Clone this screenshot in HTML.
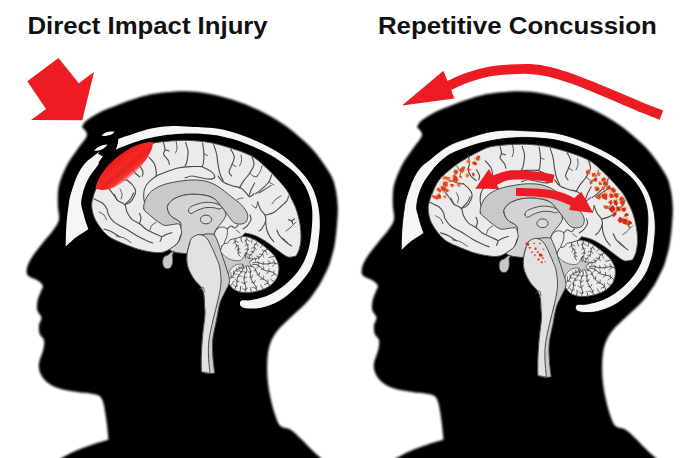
<!DOCTYPE html>
<html><head><meta charset="utf-8"><title>Direct Impact Injury vs Repetitive Concussion</title>
<style>
html,body{margin:0;padding:0;background:#fff;}
body{width:680px;height:458px;overflow:hidden;position:relative;font-family:"Liberation Sans",Arial,Helvetica,sans-serif;}
svg{position:absolute;left:0;top:0;display:block;}
.t{font-family:"Liberation Sans",Arial,Helvetica,sans-serif;font-weight:700;font-size:24.7px;fill:#111;}
</style></head><body>
<svg width="680" height="458" viewBox="0 0 680 458">
<defs>
<filter id="soft" x="-5%" y="-5%" width="110%" height="110%"><feGaussianBlur stdDeviation="0.9"/></filter>
<filter id="soft3" x="-10%" y="-10%" width="120%" height="120%"><feGaussianBlur stdDeviation="0.55"/></filter>
<filter id="soft2" x="-10%" y="-10%" width="120%" height="120%"><feGaussianBlur stdDeviation="0.9"/></filter>
<linearGradient id="rg" x1="0" y1="0" x2="0" y2="1">
<stop offset="0" stop-color="#ee1c1c"/><stop offset="0.55" stop-color="#ee2a22"/><stop offset="1" stop-color="#ee3a2e" stop-opacity="0.55"/>
</linearGradient>
</defs>
<rect width="680" height="458" fill="#fff"/>
<g transform="translate(0,0)">
<path d="M82.0,127.5C82.0,127.5 83.0,123.5 86.0,121.0C89.0,118.5 94.3,115.0 100.0,112.2C105.7,109.4 115.3,105.9 120.0,104.0C124.7,102.1 122.9,102.6 128.0,101.0C133.1,99.4 143.7,95.8 150.7,94.3C157.7,92.8 164.3,92.5 170.0,92.0C175.7,91.5 178.7,91.1 185.0,91.3C191.3,91.5 199.7,92.0 207.7,93.4C215.7,94.8 224.4,97.1 232.8,99.8C241.2,102.5 249.6,105.8 258.0,109.8C266.4,113.8 275.9,119.3 283.0,124.0C290.1,128.7 295.2,133.2 300.6,138.0C306.1,142.8 310.7,146.8 315.7,153.0C320.7,159.2 327.4,168.8 330.8,175.0C334.2,181.2 334.6,184.6 335.8,190.0C337.0,195.4 337.6,201.9 337.8,207.7C338.0,213.5 337.5,218.8 337.0,225.0C336.5,231.2 335.6,239.2 334.6,245.0C333.6,250.8 331.9,256.2 330.8,260.0C329.7,263.8 329.7,264.2 328.0,268.0C326.3,271.8 322.5,279.3 320.5,283.0C318.5,286.7 318.2,286.8 316.0,290.0C313.8,293.2 311.2,297.4 307.0,302.0C302.8,306.6 295.4,312.9 290.6,317.6C285.8,322.3 281.4,325.8 278.0,330.0C274.6,334.2 272.2,338.2 270.5,342.8C268.8,347.4 268.0,351.9 267.5,357.8C267.0,363.7 267.0,371.3 267.5,378.0C268.0,384.7 269.2,391.7 270.5,398.0C271.8,404.3 273.8,411.3 275.5,416.0C277.2,420.7 278.0,423.7 280.5,426.0C283.0,428.3 287.2,427.6 290.6,429.7C294.0,431.8 296.9,434.9 300.6,438.5C304.3,442.1 309.6,447.8 313.0,451.0C316.4,454.2 318.7,456.2 320.7,458.0C322.7,459.8 325.0,462.0 325.0,462.0C325.0,462.0 55.0,462.0 55.0,462.0C55.0,462.0 58.1,459.8 61.5,458.0C64.9,456.2 69.7,453.4 75.4,451.0C81.1,448.6 90.0,445.4 95.5,443.5C101.0,441.6 108.5,439.7 108.5,439.7C108.5,439.7 107.5,429.0 106.8,423.4C106.0,417.8 105.0,410.2 104.0,405.8C103.0,401.4 102.3,399.0 100.5,397.0C98.7,395.0 97.2,394.9 93.0,394.0C88.8,393.1 81.3,392.8 75.4,391.8C69.5,390.8 62.6,389.7 57.8,388.0C53.0,386.3 49.4,384.2 46.5,381.7C43.6,379.2 41.5,376.1 40.2,373.0C39.0,369.9 38.5,366.8 39.0,363.0C39.5,359.2 42.4,353.8 43.2,350.0C44.0,346.2 44.6,342.7 44.0,340.0C43.4,337.3 40.5,336.5 39.7,334.0C38.9,331.5 38.7,327.7 39.0,325.0C39.3,322.3 41.8,320.1 41.5,317.6C41.2,315.1 37.8,312.9 37.2,310.0C36.6,307.1 37.0,303.3 37.7,300.0C38.4,296.7 40.7,292.4 41.5,290.0C42.3,287.6 43.3,287.1 42.7,285.5C42.1,283.9 40.2,282.2 37.7,280.5C35.2,278.8 29.8,277.6 28.0,275.5C26.2,273.4 26.4,270.9 27.0,268.0C27.6,265.1 28.8,262.2 31.4,258.0C34.0,253.8 38.9,247.8 42.7,243.0C46.5,238.2 51.3,233.0 54.0,229.0C56.7,225.0 58.4,223.0 59.0,219.0C59.6,215.0 57.9,210.0 57.8,205.0C57.7,200.0 57.6,193.8 58.3,189.0C59.0,184.2 60.2,180.6 62.0,176.0C63.8,171.4 66.3,166.1 69.0,161.5C71.7,156.9 75.0,152.9 78.0,148.5C81.0,144.1 86.3,138.5 87.0,135.0C87.7,131.5 82.0,127.5 82.0,127.5Z" fill="#000" filter="url(#soft)"/>
</g>
<g transform="translate(0,0)">
<path d="M65.8,246.6C65.8,246.6 65.8,236.8 66.0,232.0C66.2,227.2 66.5,222.7 67.0,218.0C67.5,213.3 68.3,207.5 68.8,204.0C69.3,200.5 69.2,200.1 70.0,197.0C70.8,193.9 72.2,189.2 73.6,185.3C75.0,181.4 76.3,177.3 78.3,173.6C80.2,169.9 82.5,166.1 85.3,163.0C88.0,159.9 91.5,158.0 94.8,155.3C98.1,152.6 101.3,149.6 105.0,147.0C108.7,144.4 112.2,141.9 117.0,139.7C121.8,137.5 127.9,135.7 133.6,133.8C139.3,131.9 145.3,129.8 151.2,128.5C157.1,127.2 162.4,126.5 168.9,126.2C175.4,125.9 181.5,126.3 190.0,126.8C198.5,127.3 210.8,127.4 220.0,129.0C229.2,130.6 237.0,133.4 245.4,136.6C253.8,139.8 263.4,144.2 270.5,148.0C277.6,151.8 282.6,155.0 288.0,159.3C293.4,163.6 298.8,169.1 303.0,174.0C307.2,178.9 310.4,183.4 313.0,189.0C315.6,194.6 317.4,201.7 318.5,207.7C319.6,213.7 319.8,219.6 319.8,225.0C319.8,230.4 319.1,235.3 318.5,240.0C317.9,244.7 318.0,247.8 316.5,253.0C315.0,258.2 313.1,265.1 309.5,271.0C305.9,276.9 300.1,283.5 295.0,288.5C289.9,293.5 284.5,297.8 279.0,301.0C273.5,304.2 266.8,306.2 262.0,307.5C257.2,308.8 253.2,308.5 250.0,308.5C246.8,308.5 244.7,308.2 243.0,307.5C241.3,306.8 240.2,305.6 240.0,304.4C239.8,303.2 239.8,301.2 241.8,300.5C243.8,299.8 247.3,301.0 252.0,300.0C256.7,299.0 264.3,297.2 270.0,294.5C275.7,291.8 281.0,288.3 286.0,284.0C291.0,279.7 296.3,274.0 300.0,268.5C303.7,263.0 306.1,257.2 308.0,251.0C309.9,244.8 310.8,238.2 311.5,231.0C312.2,223.8 312.8,214.5 312.0,207.7C311.2,200.9 309.3,195.3 307.0,190.0C304.7,184.7 301.2,179.8 298.0,176.0C294.8,172.2 292.6,170.5 288.0,167.0C283.4,163.5 277.6,158.9 270.5,155.0C263.4,151.1 253.8,146.6 245.4,143.4C237.0,140.2 228.4,137.6 220.0,136.0C211.6,134.4 201.6,134.0 195.0,133.6C188.4,133.2 186.0,133.4 180.7,133.7C175.4,134.0 168.9,134.5 163.0,135.4C157.1,136.3 151.2,137.4 145.3,139.0C139.4,140.6 132.8,142.8 127.7,144.7C122.6,146.6 118.0,148.6 114.7,150.3C111.4,152.0 110.2,153.3 108.0,155.0C105.8,156.7 103.8,158.5 101.8,160.6C99.8,162.7 98.0,165.1 96.0,167.7C94.0,170.3 91.8,173.1 90.0,176.0C88.2,178.9 86.6,182.2 85.3,185.3C84.0,188.4 83.1,191.7 82.4,194.8C81.7,197.9 81.1,201.1 81.2,204.0C81.3,206.9 82.3,209.2 83.0,212.0C83.7,214.8 84.6,218.2 85.5,221.0C86.4,223.8 88.4,229.0 88.4,229.0C88.4,229.0 87.2,230.0 85.0,231.5C82.8,233.0 78.6,235.3 75.4,237.8C72.2,240.3 65.8,246.6 65.8,246.6Z" fill="#f6f6f6"/>
</g>
<g transform="translate(0,0)">
<path d="M96.0,189.0C97.5,185.6 99.3,180.7 102.0,177.0C104.7,173.3 108.3,170.2 112.0,167.0C115.7,163.8 119.7,160.8 124.0,158.0C128.3,155.2 133.3,152.4 138.0,150.0C142.7,147.6 147.5,144.9 152.0,143.5C156.5,142.1 160.7,142.0 165.0,141.5C169.3,141.0 173.8,140.7 178.0,140.5C182.2,140.3 185.8,140.3 190.0,140.5C194.2,140.7 198.9,141.0 203.0,141.5C207.1,142.0 210.1,142.5 214.4,143.5C218.7,144.5 224.1,146.0 229.0,147.5C233.9,149.0 239.4,150.8 243.8,152.6C248.2,154.4 251.7,155.8 255.6,158.5C259.5,161.2 264.0,165.6 267.4,168.8C270.8,172.0 272.9,174.2 276.0,177.6C279.1,181.0 283.7,185.9 286.3,189.5C288.9,193.1 289.8,195.6 291.5,199.0C293.2,202.4 295.1,205.8 296.5,210.0C297.9,214.2 299.2,219.3 300.0,224.0C300.8,228.7 301.1,233.8 301.0,238.0C300.9,242.2 300.1,246.0 299.3,249.0C298.5,252.0 296.0,256.0 296.0,256.0C296.0,256.0 290.7,257.7 288.0,257.0C285.3,256.3 283.3,254.3 280.0,252.0C276.7,249.7 272.0,245.7 268.0,243.0C264.0,240.3 259.8,237.7 256.0,236.0C252.2,234.3 245.0,233.0 245.0,233.0C245.0,233.0 242.2,236.5 240.0,238.0C237.8,239.5 234.7,241.0 232.0,242.0C229.3,243.0 226.8,244.3 224.0,244.0C221.2,243.7 219.0,241.3 215.0,240.0C211.0,238.7 205.0,236.7 200.0,236.0C195.0,235.3 188.1,236.3 185.0,236.0C181.9,235.7 182.6,232.8 181.4,234.0C180.2,235.2 179.5,240.5 177.7,243.0C175.9,245.5 173.1,247.2 170.4,248.8C167.7,250.4 164.9,252.0 161.5,252.5C158.1,253.0 154.2,252.5 149.8,251.8C145.4,251.1 139.9,249.8 135.0,248.2C130.1,246.6 124.7,244.3 120.2,242.3C115.8,240.3 111.7,238.8 108.3,236.2C104.9,233.6 102.2,230.1 99.8,226.8C97.4,223.5 95.2,220.0 93.9,216.5C92.6,213.0 91.9,209.2 91.7,206.0C91.5,202.8 92.3,200.2 93.0,197.4C93.7,194.6 94.5,192.4 96.0,189.0Z" fill="#ebebeb" stroke="#4a4a4a" stroke-width="1.0" stroke-linejoin="round" stroke-linecap="round" />
<path d="M93.9,198.8C95.4,199.5 100.5,201.5 102.7,203.2C104.9,204.9 106.0,207.0 107.0,209.0C108.0,211.0 107.3,212.8 108.6,215.0C109.8,217.2 111.8,220.2 114.5,222.4C117.2,224.6 121.1,226.0 124.8,228.2C128.5,230.4 132.8,233.5 136.5,235.6C140.2,237.7 144.1,239.5 146.8,240.7C149.5,241.9 151.7,242.6 152.7,243.0" fill="none" stroke="#4a4a4a" stroke-width="1.1" stroke-linejoin="round" stroke-linecap="round" />
<path d="M114.5,194.4C115.0,195.4 115.7,198.6 117.4,200.3C119.1,202.0 123.2,202.8 124.8,204.7C126.4,206.6 125.8,209.6 127.0,212.0C128.2,214.4 129.9,217.4 132.0,219.4C134.1,221.4 137.0,222.1 139.5,223.8C142.0,225.5 144.1,228.0 146.8,229.7C149.5,231.4 153.2,232.8 155.6,234.0C158.0,235.2 160.8,235.8 161.5,237.0C162.2,238.2 160.2,240.8 160.0,241.5" fill="none" stroke="#4a4a4a" stroke-width="1.1" stroke-linejoin="round" stroke-linecap="round" />
<path d="M124.8,204.7C125.8,203.7 129.1,200.8 130.6,198.8C132.1,196.9 133.1,194.0 133.6,193.0" fill="none" stroke="#4a4a4a" stroke-width="1.1" stroke-linejoin="round" stroke-linecap="round" />
<path d="M139.5,223.8C139.8,222.8 141.0,219.7 141.0,218.0C141.0,216.3 139.8,214.2 139.5,213.5" fill="none" stroke="#4a4a4a" stroke-width="1.1" stroke-linejoin="round" stroke-linecap="round" />
<path d="M161.5,237.0C162.5,236.5 165.7,234.7 167.4,234.0C169.1,233.3 171.1,232.8 171.8,232.6" fill="none" stroke="#4a4a4a" stroke-width="1.1" stroke-linejoin="round" stroke-linecap="round" />
<path d="M104.0,229.0C105.3,229.5 109.3,230.7 112.0,232.0C114.7,233.3 118.7,236.2 120.0,237.0" fill="none" stroke="#4a4a4a" stroke-width="1.1" stroke-linejoin="round" stroke-linecap="round" />
<path d="M163.5,142.4C163.8,143.6 165.0,147.8 165.0,149.7C165.0,151.6 163.0,152.3 163.5,154.0C164.0,155.7 167.0,158.3 168.0,160.0C169.0,161.7 169.2,163.7 169.4,164.4" fill="none" stroke="#4a4a4a" stroke-width="1.1" stroke-linejoin="round" stroke-linecap="round" />
<path d="M165.0,149.7C165.7,149.9 168.3,150.8 169.0,151.0" fill="none" stroke="#4a4a4a" stroke-width="1.1" stroke-linejoin="round" stroke-linecap="round" />
<path d="M185.6,142.4C186.0,143.6 187.4,147.8 187.8,149.7C188.2,151.6 188.2,151.8 188.0,154.0C187.8,156.2 187.0,161.0 186.5,163.0C186.0,165.0 185.2,165.5 185.0,166.0" fill="none" stroke="#4a4a4a" stroke-width="1.1" stroke-linejoin="round" stroke-linecap="round" />
<path d="M148.8,157.0C149.8,158.2 153.5,161.9 154.7,164.4C155.9,166.9 155.9,169.9 156.2,171.8C156.4,173.7 156.2,175.3 156.2,176.0" fill="none" stroke="#4a4a4a" stroke-width="1.1" stroke-linejoin="round" stroke-linecap="round" />
<path d="M131.6,151.1C131.8,152.4 133.1,156.8 133.1,159.2C133.1,161.6 131.4,163.6 131.6,165.8C131.8,168.0 133.2,170.6 134.5,172.4C135.8,174.2 138.8,176.1 139.7,176.8" fill="none" stroke="#4a4a4a" stroke-width="1.1" stroke-linejoin="round" stroke-linecap="round" />
<path d="M114.0,176.8C115.5,177.3 120.7,179.3 122.8,179.8C124.9,180.3 126.1,179.9 126.8,179.9" fill="none" stroke="#4a4a4a" stroke-width="1.1" stroke-linejoin="round" stroke-linecap="round" />
<path d="M202.0,166.6C200.0,166.6 194.0,166.4 190.0,166.6C186.0,166.8 182.1,167.1 178.2,168.0C174.3,168.9 170.2,170.4 166.5,171.8C162.8,173.2 159.1,174.5 156.2,176.2C153.2,177.9 150.8,179.8 148.8,182.0C146.8,184.2 145.2,186.9 144.4,189.4C143.6,191.9 143.7,194.7 143.7,196.8C143.7,198.9 144.3,201.1 144.4,202.0" fill="none" stroke="#4a4a4a" stroke-width="1.1" stroke-linejoin="round" stroke-linecap="round" />
<path d="M140.0,165.9C140.5,166.9 142.6,170.1 143.0,171.8C143.4,173.5 142.3,175.5 142.2,176.2" fill="none" stroke="#4a4a4a" stroke-width="1.1" stroke-linejoin="round" stroke-linecap="round" />
<path d="M126.8,179.9C127.8,180.8 131.1,183.2 132.6,185.0C134.1,186.8 135.4,188.9 135.6,190.9C135.8,192.9 134.9,195.0 134.0,196.8C133.1,198.7 131.9,200.7 130.4,202.0C128.9,203.3 125.7,204.2 124.8,204.7" fill="none" stroke="#4a4a4a" stroke-width="1.1" stroke-linejoin="round" stroke-linecap="round" />
<path d="M107.6,187.2C108.1,187.8 109.4,189.3 110.6,190.9C111.8,192.5 113.9,195.2 115.0,196.8C116.1,198.4 117.0,199.7 117.4,200.3" fill="none" stroke="#4a4a4a" stroke-width="1.1" stroke-linejoin="round" stroke-linecap="round" />
<path d="M202.6,143.0C202.8,144.8 203.9,150.7 204.0,154.0C204.1,157.3 203.7,160.9 203.4,163.0C203.1,165.1 202.2,166.0 202.0,166.6" fill="none" stroke="#4a4a4a" stroke-width="1.1" stroke-linejoin="round" stroke-linecap="round" />
<path d="M213.7,144.6C214.2,146.2 215.9,150.7 216.6,154.0C217.3,157.3 217.4,161.0 218.0,164.4C218.6,167.8 219.4,172.0 220.3,174.7C221.2,177.4 222.7,179.6 223.2,180.6" fill="none" stroke="#4a4a4a" stroke-width="1.1" stroke-linejoin="round" stroke-linecap="round" />
<path d="M230.6,149.0C231.2,150.3 234.1,154.4 234.3,157.0C234.5,159.6 232.9,161.9 232.0,164.4C231.1,166.9 229.1,169.9 229.0,171.8C228.9,173.7 231.1,175.3 231.5,176.0" fill="none" stroke="#4a4a4a" stroke-width="1.1" stroke-linejoin="round" stroke-linecap="round" />
<path d="M252.0,157.0C252.3,158.2 254.4,161.7 254.0,164.4C253.6,167.1 251.4,170.5 249.7,173.2C248.0,175.9 245.5,178.1 243.8,180.6C242.1,183.1 240.1,186.8 239.4,188.0" fill="none" stroke="#4a4a4a" stroke-width="1.1" stroke-linejoin="round" stroke-linecap="round" />
<path d="M271.8,174.7C271.3,175.9 270.5,179.6 268.8,182.0C267.1,184.4 263.7,187.4 261.5,189.4C259.3,191.4 256.6,193.1 255.6,193.8" fill="none" stroke="#4a4a4a" stroke-width="1.1" stroke-linejoin="round" stroke-linecap="round" />
<path d="M202.0,166.6C203.6,167.5 209.4,170.0 211.5,171.8C213.6,173.6 215.2,176.4 214.4,177.6C213.7,178.8 210.7,179.3 207.0,179.0C203.3,178.7 196.1,176.2 192.4,176.0C188.7,175.8 186.2,177.7 185.0,178.0" fill="none" stroke="#4a4a4a" stroke-width="1.1" stroke-linejoin="round" stroke-linecap="round" />
<path d="M218.0,176.0C218.9,177.0 220.9,180.4 223.2,182.0C225.5,183.6 229.0,184.7 232.0,185.7C235.0,186.7 238.5,186.7 241.0,188.0C243.5,189.3 245.4,192.3 246.8,193.8C248.2,195.3 248.5,196.8 249.7,196.8C250.9,196.8 253.3,194.3 254.0,193.8" fill="none" stroke="#4a4a4a" stroke-width="1.1" stroke-linejoin="round" stroke-linecap="round" />
<path d="M257.6,202.0C258.1,203.2 259.4,207.2 260.6,209.4C261.8,211.6 264.1,213.4 265.0,215.3C265.9,217.2 266.2,218.8 265.7,221.0C265.2,223.2 263.1,226.8 262.0,228.5C260.9,230.2 259.5,230.6 259.0,231.0" fill="none" stroke="#4a4a4a" stroke-width="1.1" stroke-linejoin="round" stroke-linecap="round" />
<path d="M265.0,215.3C266.5,214.8 271.1,213.9 273.8,212.4C276.5,210.9 278.8,208.5 281.0,206.5C283.2,204.5 285.8,202.3 287.0,200.6C288.2,198.8 288.2,196.8 288.5,196.0" fill="none" stroke="#4a4a4a" stroke-width="1.1" stroke-linejoin="round" stroke-linecap="round" />
<path d="M265.7,221.0C265.8,222.2 265.9,226.0 266.5,228.5C267.1,231.0 268.2,233.7 269.4,235.9C270.6,238.1 273.1,240.8 273.8,241.8" fill="none" stroke="#4a4a4a" stroke-width="1.1" stroke-linejoin="round" stroke-linecap="round" />
<path d="M288.5,219.7C289.0,219.9 290.8,220.3 291.5,221.0C292.2,221.7 292.8,223.5 293.0,224.0" fill="none" stroke="#4a4a4a" stroke-width="1.1" stroke-linejoin="round" stroke-linecap="round" />
<path d="M291.5,221.0C292.0,220.7 294.0,219.3 294.5,219.0" fill="none" stroke="#4a4a4a" stroke-width="1.1" stroke-linejoin="round" stroke-linecap="round" />
<path d="M276.8,230.0C277.3,231.0 278.2,233.9 279.7,235.9C281.2,237.9 283.6,240.1 285.6,241.8C287.6,243.5 290.5,245.3 291.5,246.0" fill="none" stroke="#4a4a4a" stroke-width="1.1" stroke-linejoin="round" stroke-linecap="round" />
<path d="M259.0,193.0C260.5,192.1 266.0,188.7 268.0,187.4C270.0,186.2 270.5,185.8 271.0,185.5" fill="none" stroke="#4a4a4a" stroke-width="1.1" stroke-linejoin="round" stroke-linecap="round" />
<path d="M249.0,196.0C249.3,195.0 250.1,192.2 251.0,190.0C251.9,187.8 254.1,184.2 254.7,183.0" fill="none" stroke="#4a4a4a" stroke-width="1.1" stroke-linejoin="round" stroke-linecap="round" />
<path d="M250.0,215.0C250.2,215.8 251.4,217.9 251.0,219.7C250.6,221.5 248.7,224.0 247.4,225.6C246.1,227.2 243.7,228.4 243.0,229.0" fill="none" stroke="#4a4a4a" stroke-width="1.1" stroke-linejoin="round" stroke-linecap="round" />
<path d="M232.0,164.4C232.7,164.8 235.3,166.2 236.0,166.5" fill="none" stroke="#4a4a4a" stroke-width="0.9" stroke-linejoin="round" stroke-linecap="round" />
<path d="M249.7,173.2C250.4,173.8 252.8,176.0 254.0,176.5C255.2,177.0 256.5,176.1 257.0,176.0" fill="none" stroke="#4a4a4a" stroke-width="0.9" stroke-linejoin="round" stroke-linecap="round" />
<path d="M268.8,182.0C269.7,182.5 273.1,184.5 274.0,185.0" fill="none" stroke="#4a4a4a" stroke-width="0.9" stroke-linejoin="round" stroke-linecap="round" />
<path d="M204.0,154.0C204.6,154.2 206.9,155.2 207.5,155.5" fill="none" stroke="#4a4a4a" stroke-width="0.9" stroke-linejoin="round" stroke-linecap="round" />
<path d="M176.0,141.0C176.2,142.2 177.1,146.0 177.0,148.0C176.9,150.0 175.8,152.2 175.5,153.0" fill="none" stroke="#4a4a4a" stroke-width="0.9" stroke-linejoin="round" stroke-linecap="round" />
<path d="M241.0,155.0C241.1,156.0 241.8,159.2 241.5,161.0C241.2,162.8 239.8,165.2 239.5,166.0" fill="none" stroke="#4a4a4a" stroke-width="0.9" stroke-linejoin="round" stroke-linecap="round" />
<path d="M262.0,166.0C261.7,167.0 260.9,170.2 260.0,172.0C259.1,173.8 257.1,176.2 256.5,177.0" fill="none" stroke="#4a4a4a" stroke-width="0.9" stroke-linejoin="round" stroke-linecap="round" />
<path d="M281.0,196.0C280.2,196.5 277.5,197.7 276.0,199.0C274.5,200.3 272.7,203.2 272.0,204.0" fill="none" stroke="#4a4a4a" stroke-width="0.9" stroke-linejoin="round" stroke-linecap="round" />
<path d="M296.0,222.0C295.0,223.0 291.7,226.5 290.0,228.0C288.3,229.5 286.7,230.5 286.0,231.0" fill="none" stroke="#4a4a4a" stroke-width="0.9" stroke-linejoin="round" stroke-linecap="round" />
<path d="M283.0,238.0C283.8,238.8 287.2,242.2 288.0,243.0" fill="none" stroke="#4a4a4a" stroke-width="0.9" stroke-linejoin="round" stroke-linecap="round" />
<path d="M99.0,212.0C99.8,212.5 102.8,213.7 104.0,215.0C105.2,216.3 106.1,219.2 106.5,220.0" fill="none" stroke="#4a4a4a" stroke-width="0.9" stroke-linejoin="round" stroke-linecap="round" />
<path d="M116.0,236.0C117.3,236.3 121.5,236.9 124.0,238.0C126.5,239.1 129.8,241.8 131.0,242.5" fill="none" stroke="#4a4a4a" stroke-width="0.9" stroke-linejoin="round" stroke-linecap="round" />
<path d="M150.0,230.0C150.3,229.2 151.0,226.2 152.0,225.0C153.0,223.8 155.3,222.9 156.0,222.5" fill="none" stroke="#4a4a4a" stroke-width="0.9" stroke-linejoin="round" stroke-linecap="round" />
<path d="M120.0,189.0C120.3,189.8 121.8,192.3 122.0,194.0C122.2,195.7 121.2,198.2 121.0,199.0" fill="none" stroke="#4a4a4a" stroke-width="0.9" stroke-linejoin="round" stroke-linecap="round" />
<path d="M108.0,173.0C108.8,173.8 112.0,177.4 113.0,178.0C114.0,178.6 113.8,177.0 114.0,176.8" fill="none" stroke="#4a4a4a" stroke-width="0.9" stroke-linejoin="round" stroke-linecap="round" />
<path d="M120.0,162.0C120.7,163.0 123.5,166.2 124.0,168.0C124.5,169.8 123.2,172.2 123.0,173.0" fill="none" stroke="#4a4a4a" stroke-width="0.9" stroke-linejoin="round" stroke-linecap="round" />
<path d="M234.0,203.0C234.7,202.3 236.5,199.8 238.0,199.0C239.5,198.2 242.2,198.2 243.0,198.0" fill="none" stroke="#4a4a4a" stroke-width="0.9" stroke-linejoin="round" stroke-linecap="round" />
<path d="M252.0,205.0C252.7,205.5 255.1,208.5 256.0,208.0C256.9,207.5 257.3,203.0 257.6,202.0" fill="none" stroke="#4a4a4a" stroke-width="0.9" stroke-linejoin="round" stroke-linecap="round" />
<path d="M236.0,230.0C236.7,230.5 239.3,232.5 240.0,233.0" fill="none" stroke="#4a4a4a" stroke-width="0.9" stroke-linejoin="round" stroke-linecap="round" />
<path d="M143.8,209.0C143.1,206.4 144.3,202.4 145.6,199.4C146.9,196.4 148.8,193.5 151.5,191.2C154.2,188.8 157.9,186.9 162.0,185.3C166.1,183.7 171.3,182.7 176.2,181.8C181.1,180.9 186.6,180.1 191.5,180.0C196.4,179.9 201.3,180.1 205.7,181.2C210.1,182.3 213.9,184.0 218.0,186.5C222.1,189.0 226.5,192.9 230.4,196.0C234.3,199.1 238.7,202.0 241.5,205.0C244.3,208.0 246.6,211.1 247.4,213.8C248.2,216.5 247.6,219.3 246.6,221.0C245.6,222.7 243.6,223.7 241.5,224.0C239.4,224.3 236.2,224.0 234.0,222.6C231.8,221.2 229.9,217.7 228.0,215.3C226.1,212.9 224.9,210.9 222.4,208.0C219.9,205.1 216.6,200.2 213.0,198.0C209.4,195.8 205.4,195.2 201.0,194.7C196.6,194.1 191.1,194.1 186.8,194.7C182.5,195.3 178.0,196.8 175.0,198.3C172.0,199.9 169.8,202.2 168.6,204.0C167.3,205.8 167.1,206.8 167.5,208.8C167.9,210.8 168.9,213.8 171.0,216.0C173.1,218.2 178.3,220.0 180.0,222.0C181.7,224.0 181.2,227.7 181.0,228.0C180.8,228.3 180.5,224.6 179.0,224.0C177.5,223.4 174.2,224.4 171.8,224.6C169.4,224.8 167.0,225.9 164.5,225.3C162.0,224.7 159.4,222.7 157.0,221.0C154.6,219.3 152.0,217.0 149.8,215.0C147.6,213.0 144.5,211.6 143.8,209.0Z" fill="#c9c9c9" stroke="#4a4a4a" stroke-width="1.0" stroke-linejoin="round" stroke-linecap="round" />
<path d="M167.5,208.8C167.1,206.8 167.3,205.8 168.6,204.0C169.8,202.2 172.0,199.9 175.0,198.3C178.0,196.8 182.5,195.3 186.8,194.7C191.1,194.1 196.6,194.1 201.0,194.7C205.4,195.2 209.8,196.3 213.0,198.0C216.2,199.7 217.8,202.3 220.0,205.0C222.2,207.7 225.7,211.2 226.0,214.0C226.3,216.8 223.5,219.7 222.0,222.0C220.5,224.3 218.3,226.0 217.0,228.0C215.7,230.0 214.5,231.8 214.0,234.0C213.5,236.2 213.5,238.6 214.0,241.0C214.5,243.4 215.8,245.5 217.0,248.5C218.2,251.5 219.8,255.4 221.0,259.0C222.2,262.6 225.2,268.2 224.0,270.0C222.8,271.8 218.0,271.3 214.0,270.0C210.0,268.7 204.0,264.7 200.0,262.0C196.0,259.3 192.7,255.4 190.0,254.0C187.3,252.6 186.3,253.8 184.0,253.5C181.7,253.2 178.1,252.9 176.0,252.5C173.9,252.1 172.4,251.6 171.5,251.0C170.6,250.4 169.4,250.1 170.4,248.8C171.4,247.5 175.9,245.5 177.7,243.0C179.5,240.5 180.8,236.5 181.4,234.0C182.0,231.5 181.2,230.0 181.0,228.0C180.8,226.0 181.7,224.0 180.0,222.0C178.3,220.0 173.1,218.2 171.0,216.0C168.9,213.8 167.9,210.8 167.5,208.8Z" fill="#d3d3d3" stroke="#4a4a4a" stroke-width="1.0" stroke-linejoin="round" stroke-linecap="round" />
<path d="M188.5,211.0C188.3,210.0 188.8,208.6 190.0,207.5C191.2,206.4 193.3,205.4 196.0,204.5C198.7,203.6 202.7,202.5 206.0,202.3C209.3,202.1 213.3,202.7 216.0,203.5C218.7,204.3 221.5,206.1 222.0,207.0C222.5,207.9 220.3,208.9 219.0,209.0C217.7,209.1 216.2,208.0 214.0,207.8C211.8,207.6 208.8,207.2 206.0,207.6C203.2,208.0 199.5,209.5 197.0,210.5C194.5,211.5 192.4,213.4 191.0,213.5C189.6,213.6 188.7,212.0 188.5,211.0Z" fill="#d9d9d9" stroke="#4a4a4a" stroke-width="1.0" stroke-linejoin="round" stroke-linecap="round" />
<ellipse cx="206" cy="219.5" rx="5.6" ry="4.4" fill="#d9d9d9" stroke="#4a4a4a" stroke-width="1"/>
<path d="M217.0,229.0C218.2,227.8 220.3,227.0 222.0,227.0C223.7,227.0 226.2,227.5 227.0,229.0C227.8,230.5 227.5,233.5 227.0,236.0C226.5,238.5 224.3,241.3 224.0,244.0C223.7,246.7 225.2,250.0 225.0,252.0C224.8,254.0 224.0,256.3 223.0,256.0C222.0,255.7 220.3,252.5 219.0,250.0C217.7,247.5 215.8,243.7 215.0,241.0C214.2,238.3 214.2,236.0 214.5,234.0C214.8,232.0 215.8,230.2 217.0,229.0Z" fill="#ebebeb" stroke="#4a4a4a" stroke-width="0.9" stroke-linejoin="round" stroke-linecap="round" />
<path d="M227.0,229.0C227.7,228.5 229.7,226.2 231.0,226.0C232.3,225.8 233.8,228.2 235.0,228.0C236.2,227.8 237.5,225.5 238.0,225.0" fill="none" stroke="#4a4a4a" stroke-width="1.1" stroke-linejoin="round" stroke-linecap="round" />
<path d="M222.0,246.0C223.6,242.3 226.3,244.0 227.6,243.0C228.9,242.0 228.7,240.8 230.0,240.0C231.3,239.2 232.9,239.1 235.4,238.5C237.9,237.9 241.8,236.1 244.9,236.3C248.1,236.5 251.7,238.3 254.3,239.5C256.9,240.7 258.4,242.0 260.5,243.5C262.6,245.0 264.5,246.3 266.9,248.4C269.3,250.5 272.7,253.4 274.7,256.3C276.7,259.2 278.2,262.6 278.7,265.7C279.2,268.8 278.8,272.3 277.9,275.2C277.0,278.1 275.3,280.8 273.2,283.0C271.1,285.2 268.4,287.0 265.3,288.5C262.2,290.0 258.0,291.2 254.3,291.9C250.6,292.6 246.7,293.0 243.3,292.6C239.9,292.2 236.5,291.1 233.9,289.5C231.3,287.9 230.0,284.6 228.0,283.0C226.0,281.4 223.7,283.0 222.0,280.0C220.3,277.0 218.0,270.7 218.0,265.0C218.0,259.3 220.4,249.7 222.0,246.0Z" fill="#ebebeb" stroke="#4a4a4a" stroke-width="1.0" stroke-linejoin="round" stroke-linecap="round" />
<path d="M221.0,254.0C221.7,251.5 224.2,256.0 226.0,257.0C227.8,258.0 229.7,259.4 232.0,260.0C234.3,260.6 238.1,261.0 240.0,260.5C241.9,260.0 242.5,258.3 243.5,257.0C244.5,255.7 245.3,252.4 246.0,252.5C246.7,252.6 246.4,256.5 247.6,257.5C248.8,258.5 252.7,257.8 253.0,258.5C253.3,259.2 249.7,260.6 249.5,262.0C249.3,263.4 252.4,266.4 252.0,267.0C251.6,267.6 248.4,265.2 247.0,265.5C245.6,265.8 244.2,269.2 243.5,269.0C242.8,268.8 244.2,265.2 243.0,264.5C241.8,263.8 238.2,264.1 236.0,265.0C233.8,265.9 231.5,267.7 230.0,270.0C228.5,272.3 228.0,276.8 227.0,279.0C226.0,281.2 224.8,284.2 224.0,283.0C223.2,281.8 222.5,276.8 222.0,272.0C221.5,267.2 220.3,256.5 221.0,254.0Z" fill="#c9c9c9" stroke="#4a4a4a" stroke-width="0.7" stroke-linejoin="round" stroke-linecap="round" />
<path d="M235.4,239.0C235.3,239.5 234.7,241.0 234.8,241.9C235.0,242.8 235.6,243.7 236.2,244.5C236.8,245.3 237.9,245.9 238.3,246.8C238.7,247.8 238.6,248.9 238.6,250.0C238.6,251.1 237.9,252.4 238.2,253.5C238.5,254.5 239.9,255.8 240.2,256.3" fill="none" stroke="#4a4a4a" stroke-width="0.95" stroke-linejoin="round" stroke-linecap="round" />
<path d="M235.7,241.1C236.0,241.2 236.7,241.4 237.2,241.6C237.7,241.9 238.3,242.5 238.5,242.7" fill="none" stroke="#4a4a4a" stroke-width="0.8" stroke-linejoin="round" stroke-linecap="round" />
<path d="M235.7,241.1C235.5,241.3 235.1,241.6 234.7,242.0C234.3,242.4 233.5,243.3 233.2,243.5" fill="none" stroke="#4a4a4a" stroke-width="0.8" stroke-linejoin="round" stroke-linecap="round" />
<path d="M236.4,245.0C236.6,245.1 237.4,245.4 237.7,245.5C238.0,245.6 238.4,245.6 238.5,245.6" fill="none" stroke="#4a4a4a" stroke-width="0.8" stroke-linejoin="round" stroke-linecap="round" />
<path d="M236.4,245.0C236.4,245.3 236.4,246.2 236.2,246.8C236.0,247.3 235.4,248.0 235.2,248.3" fill="none" stroke="#4a4a4a" stroke-width="0.8" stroke-linejoin="round" stroke-linecap="round" />
<path d="M238.0,248.7C238.1,248.7 238.2,248.8 238.6,248.8C238.9,248.9 239.6,249.0 239.9,249.0" fill="none" stroke="#4a4a4a" stroke-width="0.8" stroke-linejoin="round" stroke-linecap="round" />
<path d="M238.0,248.7C237.9,248.8 237.6,248.9 237.5,249.2C237.4,249.5 237.4,250.2 237.3,250.4" fill="none" stroke="#4a4a4a" stroke-width="0.8" stroke-linejoin="round" stroke-linecap="round" />
<path d="M239.1,252.1C239.3,252.2 240.0,252.3 240.2,252.5C240.5,252.6 240.7,252.7 240.8,252.8" fill="none" stroke="#4a4a4a" stroke-width="0.8" stroke-linejoin="round" stroke-linecap="round" />
<path d="M239.1,252.1C239.0,252.2 238.8,252.5 238.6,252.7C238.4,253.0 238.0,253.3 237.9,253.4" fill="none" stroke="#4a4a4a" stroke-width="0.8" stroke-linejoin="round" stroke-linecap="round" />
<path d="M247.2,237.0C247.0,237.5 246.1,239.1 245.9,240.2C245.8,241.4 246.0,242.5 246.4,243.7C246.8,244.9 248.0,246.2 248.1,247.5C248.2,248.8 247.7,250.4 247.2,251.6C246.7,252.8 245.4,253.4 245.2,254.4C244.9,255.5 245.6,257.3 245.7,257.9" fill="none" stroke="#4a4a4a" stroke-width="0.95" stroke-linejoin="round" stroke-linecap="round" />
<path d="M246.9,239.5C247.1,239.7 247.7,240.0 248.2,240.3C248.7,240.6 249.6,241.3 249.8,241.5" fill="none" stroke="#4a4a4a" stroke-width="0.8" stroke-linejoin="round" stroke-linecap="round" />
<path d="M246.9,239.5C246.8,239.6 246.4,239.9 246.1,240.1C245.7,240.4 245.1,240.8 244.8,240.9" fill="none" stroke="#4a4a4a" stroke-width="0.8" stroke-linejoin="round" stroke-linecap="round" />
<path d="M246.4,244.1C246.7,244.3 247.6,244.7 248.0,244.9C248.4,245.1 248.7,245.1 248.8,245.1" fill="none" stroke="#4a4a4a" stroke-width="0.8" stroke-linejoin="round" stroke-linecap="round" />
<path d="M246.4,244.1C246.4,244.3 246.3,244.7 246.1,245.0C245.8,245.3 245.2,245.8 245.0,246.0" fill="none" stroke="#4a4a4a" stroke-width="0.8" stroke-linejoin="round" stroke-linecap="round" />
<path d="M246.9,248.8C247.0,248.9 247.3,249.1 247.6,249.2C247.9,249.3 248.7,249.4 248.9,249.5" fill="none" stroke="#4a4a4a" stroke-width="0.8" stroke-linejoin="round" stroke-linecap="round" />
<path d="M246.9,248.8C246.7,248.9 246.0,249.0 245.8,249.2C245.5,249.4 245.4,249.8 245.3,249.9" fill="none" stroke="#4a4a4a" stroke-width="0.8" stroke-linejoin="round" stroke-linecap="round" />
<path d="M246.9,253.0C247.0,253.0 247.1,253.2 247.4,253.4C247.7,253.6 248.3,254.1 248.5,254.3" fill="none" stroke="#4a4a4a" stroke-width="0.8" stroke-linejoin="round" stroke-linecap="round" />
<path d="M246.9,253.0C246.8,253.0 246.7,252.9 246.5,253.1C246.3,253.2 245.8,253.6 245.7,253.7" fill="none" stroke="#4a4a4a" stroke-width="0.8" stroke-linejoin="round" stroke-linecap="round" />
<path d="M257.5,241.8C257.1,242.3 255.5,243.5 255.0,244.6C254.4,245.7 254.5,247.3 254.3,248.4C254.1,249.5 254.4,250.4 254.0,251.2C253.6,252.0 252.6,252.5 251.9,253.2C251.2,253.9 250.2,254.6 249.6,255.6C249.1,256.5 248.9,258.2 248.8,258.7" fill="none" stroke="#4a4a4a" stroke-width="0.95" stroke-linejoin="round" stroke-linecap="round" />
<path d="M256.5,243.9C256.6,244.0 257.1,244.3 257.3,244.6C257.6,245.0 257.8,245.8 257.9,246.0" fill="none" stroke="#4a4a4a" stroke-width="0.8" stroke-linejoin="round" stroke-linecap="round" />
<path d="M256.5,243.9C256.3,244.0 255.4,244.4 255.0,244.5C254.6,244.6 254.0,244.4 253.9,244.4" fill="none" stroke="#4a4a4a" stroke-width="0.8" stroke-linejoin="round" stroke-linecap="round" />
<path d="M254.7,247.6C254.8,247.7 255.5,248.1 255.7,248.4C255.9,248.7 256.0,249.4 256.1,249.6" fill="none" stroke="#4a4a4a" stroke-width="0.8" stroke-linejoin="round" stroke-linecap="round" />
<path d="M254.7,247.6C254.4,247.6 253.7,247.5 253.2,247.6C252.7,247.8 251.8,248.2 251.5,248.3" fill="none" stroke="#4a4a4a" stroke-width="0.8" stroke-linejoin="round" stroke-linecap="round" />
<path d="M252.8,251.4C252.9,251.5 253.0,252.1 253.2,252.3C253.4,252.6 253.9,252.8 254.0,252.9" fill="none" stroke="#4a4a4a" stroke-width="0.8" stroke-linejoin="round" stroke-linecap="round" />
<path d="M252.8,251.4C252.6,251.3 251.8,251.2 251.5,251.3C251.2,251.3 251.0,251.7 250.8,251.8" fill="none" stroke="#4a4a4a" stroke-width="0.8" stroke-linejoin="round" stroke-linecap="round" />
<path d="M251.0,254.7C251.1,254.8 251.4,255.1 251.5,255.3C251.6,255.6 251.7,256.0 251.8,256.2" fill="none" stroke="#4a4a4a" stroke-width="0.8" stroke-linejoin="round" stroke-linecap="round" />
<path d="M251.0,254.7C250.8,254.8 250.3,254.9 249.9,254.9C249.5,255.0 248.9,255.0 248.8,255.0" fill="none" stroke="#4a4a4a" stroke-width="0.8" stroke-linejoin="round" stroke-linecap="round" />
<path d="M267.5,249.2C266.9,249.5 264.9,250.2 264.0,251.1C263.1,252.0 262.9,253.7 262.2,254.7C261.5,255.7 260.5,256.7 259.5,257.4C258.4,258.1 256.9,258.4 255.9,258.7C254.9,259.0 254.0,258.8 253.2,259.1C252.4,259.5 251.5,260.7 251.2,261.0" fill="none" stroke="#4a4a4a" stroke-width="0.95" stroke-linejoin="round" stroke-linecap="round" />
<path d="M265.8,251.0C265.9,251.2 266.0,251.9 266.2,252.5C266.5,253.1 266.9,254.1 267.1,254.5" fill="none" stroke="#4a4a4a" stroke-width="0.8" stroke-linejoin="round" stroke-linecap="round" />
<path d="M265.8,251.0C265.4,250.9 264.3,251.0 263.6,250.8C263.0,250.7 262.3,250.1 262.0,250.0" fill="none" stroke="#4a4a4a" stroke-width="0.8" stroke-linejoin="round" stroke-linecap="round" />
<path d="M262.7,254.2C262.8,254.4 263.0,254.8 263.1,255.2C263.3,255.7 263.6,256.6 263.7,256.9" fill="none" stroke="#4a4a4a" stroke-width="0.8" stroke-linejoin="round" stroke-linecap="round" />
<path d="M262.7,254.2C262.4,254.2 261.4,254.4 260.8,254.4C260.2,254.4 259.5,254.3 259.3,254.3" fill="none" stroke="#4a4a4a" stroke-width="0.8" stroke-linejoin="round" stroke-linecap="round" />
<path d="M259.0,256.7C259.0,256.9 259.0,257.4 258.9,257.9C258.8,258.3 258.7,259.1 258.6,259.3" fill="none" stroke="#4a4a4a" stroke-width="0.8" stroke-linejoin="round" stroke-linecap="round" />
<path d="M259.0,256.7C258.8,256.6 257.9,256.3 257.5,256.2C257.1,256.1 256.7,256.1 256.6,256.1" fill="none" stroke="#4a4a4a" stroke-width="0.8" stroke-linejoin="round" stroke-linecap="round" />
<path d="M255.6,258.9C255.6,259.0 255.6,259.4 255.5,259.8C255.5,260.1 255.3,260.8 255.3,261.0" fill="none" stroke="#4a4a4a" stroke-width="0.8" stroke-linejoin="round" stroke-linecap="round" />
<path d="M255.6,258.9C255.4,258.7 254.8,258.4 254.6,258.2C254.4,258.0 254.4,257.9 254.4,257.9" fill="none" stroke="#4a4a4a" stroke-width="0.8" stroke-linejoin="round" stroke-linecap="round" />
<path d="M278.0,264.2C277.3,264.0 275.4,263.0 274.1,262.8C272.8,262.7 271.5,263.2 270.0,263.4C268.5,263.6 266.9,264.1 265.3,264.1C263.7,264.1 262.0,263.7 260.6,263.4C259.2,263.1 258.0,262.4 256.7,262.3C255.4,262.3 253.4,262.8 252.7,262.9" fill="none" stroke="#4a4a4a" stroke-width="0.95" stroke-linejoin="round" stroke-linecap="round" />
<path d="M275.0,263.9C274.7,264.1 273.9,264.6 273.5,265.0C273.1,265.4 272.8,266.1 272.7,266.3" fill="none" stroke="#4a4a4a" stroke-width="0.8" stroke-linejoin="round" stroke-linecap="round" />
<path d="M275.0,263.9C274.9,263.6 274.6,262.8 274.4,262.2C274.1,261.5 273.7,260.5 273.5,260.1" fill="none" stroke="#4a4a4a" stroke-width="0.8" stroke-linejoin="round" stroke-linecap="round" />
<path d="M269.4,263.4C269.3,263.5 268.6,263.6 268.4,263.9C268.2,264.2 268.2,265.0 268.2,265.2" fill="none" stroke="#4a4a4a" stroke-width="0.8" stroke-linejoin="round" stroke-linecap="round" />
<path d="M269.4,263.4C269.4,263.1 269.3,262.1 269.1,261.7C268.9,261.2 268.3,260.8 268.1,260.7" fill="none" stroke="#4a4a4a" stroke-width="0.8" stroke-linejoin="round" stroke-linecap="round" />
<path d="M263.8,263.4C263.8,263.5 263.6,263.9 263.4,264.2C263.2,264.5 262.8,265.1 262.6,265.3" fill="none" stroke="#4a4a4a" stroke-width="0.8" stroke-linejoin="round" stroke-linecap="round" />
<path d="M263.8,263.4C263.8,263.3 263.6,263.1 263.5,262.8C263.4,262.5 263.2,262.0 263.1,261.8" fill="none" stroke="#4a4a4a" stroke-width="0.8" stroke-linejoin="round" stroke-linecap="round" />
<path d="M258.8,263.3C258.7,263.5 258.6,264.1 258.4,264.4C258.2,264.7 257.8,265.0 257.7,265.1" fill="none" stroke="#4a4a4a" stroke-width="0.8" stroke-linejoin="round" stroke-linecap="round" />
<path d="M258.8,263.3C258.7,263.2 258.7,263.1 258.6,262.8C258.5,262.6 258.2,261.9 258.1,261.7" fill="none" stroke="#4a4a4a" stroke-width="0.8" stroke-linejoin="round" stroke-linecap="round" />
<path d="M277.1,275.8C276.5,275.2 274.8,273.2 273.4,272.4C271.9,271.7 270.0,271.6 268.5,271.2C267.0,270.8 265.4,270.8 264.1,270.1C262.8,269.5 261.8,268.2 260.6,267.3C259.4,266.4 258.4,265.3 257.0,264.8C255.7,264.3 253.4,264.5 252.7,264.5" fill="none" stroke="#4a4a4a" stroke-width="0.95" stroke-linejoin="round" stroke-linecap="round" />
<path d="M274.2,274.3C274.0,274.4 273.4,274.8 273.0,275.1C272.5,275.4 271.8,276.0 271.5,276.2" fill="none" stroke="#4a4a4a" stroke-width="0.8" stroke-linejoin="round" stroke-linecap="round" />
<path d="M274.2,274.3C274.2,274.0 273.8,273.3 273.7,272.7C273.7,272.1 273.9,271.2 273.9,270.9" fill="none" stroke="#4a4a4a" stroke-width="0.8" stroke-linejoin="round" stroke-linecap="round" />
<path d="M269.0,271.5C268.8,271.6 268.3,272.1 267.9,272.4C267.5,272.7 266.7,273.3 266.4,273.5" fill="none" stroke="#4a4a4a" stroke-width="0.8" stroke-linejoin="round" stroke-linecap="round" />
<path d="M269.0,271.5C269.0,271.3 268.9,270.8 268.9,270.3C268.9,269.8 268.9,268.9 268.9,268.6" fill="none" stroke="#4a4a4a" stroke-width="0.8" stroke-linejoin="round" stroke-linecap="round" />
<path d="M263.7,268.8C263.4,268.9 262.5,269.2 262.1,269.3C261.7,269.5 261.4,269.6 261.3,269.7" fill="none" stroke="#4a4a4a" stroke-width="0.8" stroke-linejoin="round" stroke-linecap="round" />
<path d="M263.7,268.8C263.7,268.7 263.8,268.2 263.7,267.9C263.7,267.6 263.4,267.1 263.4,266.9" fill="none" stroke="#4a4a4a" stroke-width="0.8" stroke-linejoin="round" stroke-linecap="round" />
<path d="M258.8,266.7C258.6,266.7 258.0,266.7 257.7,267.0C257.4,267.2 257.1,267.9 257.0,268.0" fill="none" stroke="#4a4a4a" stroke-width="0.8" stroke-linejoin="round" stroke-linecap="round" />
<path d="M258.8,266.7C258.7,266.5 258.3,265.8 258.2,265.4C258.1,265.1 258.1,264.9 258.1,264.8" fill="none" stroke="#4a4a4a" stroke-width="0.8" stroke-linejoin="round" stroke-linecap="round" />
<path d="M269.6,286.0C269.1,285.2 268.0,282.6 266.8,281.3C265.6,280.0 263.6,279.3 262.2,278.3C260.8,277.3 259.2,276.4 258.2,275.1C257.1,273.8 256.6,271.8 255.9,270.5C255.2,269.2 254.9,268.2 254.0,267.4C253.2,266.6 251.3,266.0 250.8,265.7" fill="none" stroke="#4a4a4a" stroke-width="0.95" stroke-linejoin="round" stroke-linecap="round" />
<path d="M267.3,283.6C267.1,283.6 266.5,283.6 266.0,283.8C265.6,283.9 264.8,284.4 264.5,284.5" fill="none" stroke="#4a4a4a" stroke-width="0.8" stroke-linejoin="round" stroke-linecap="round" />
<path d="M267.3,283.6C267.4,283.3 267.8,282.7 267.9,282.1C268.0,281.5 267.9,280.3 267.9,279.9" fill="none" stroke="#4a4a4a" stroke-width="0.8" stroke-linejoin="round" stroke-linecap="round" />
<path d="M263.1,279.2C262.8,279.2 262.0,279.0 261.5,279.1C261.0,279.1 260.4,279.4 260.2,279.5" fill="none" stroke="#4a4a4a" stroke-width="0.8" stroke-linejoin="round" stroke-linecap="round" />
<path d="M263.1,279.2C263.2,279.0 263.5,278.3 263.6,277.8C263.7,277.3 263.7,276.3 263.7,276.0" fill="none" stroke="#4a4a4a" stroke-width="0.8" stroke-linejoin="round" stroke-linecap="round" />
<path d="M259.2,274.5C259.0,274.6 258.2,274.7 257.9,274.7C257.6,274.8 257.3,275.0 257.2,275.0" fill="none" stroke="#4a4a4a" stroke-width="0.8" stroke-linejoin="round" stroke-linecap="round" />
<path d="M259.2,274.5C259.2,274.4 259.2,274.0 259.3,273.7C259.3,273.4 259.5,272.8 259.5,272.6" fill="none" stroke="#4a4a4a" stroke-width="0.8" stroke-linejoin="round" stroke-linecap="round" />
<path d="M255.6,270.3C255.6,270.3 255.4,270.8 255.1,270.8C254.8,270.9 254.2,270.6 254.0,270.6" fill="none" stroke="#4a4a4a" stroke-width="0.8" stroke-linejoin="round" stroke-linecap="round" />
<path d="M255.6,270.3C255.6,270.2 255.3,270.1 255.4,269.8C255.4,269.6 255.7,269.0 255.8,268.8" fill="none" stroke="#4a4a4a" stroke-width="0.8" stroke-linejoin="round" stroke-linecap="round" />
<path d="M256.9,291.3C256.7,290.6 256.4,288.3 255.9,286.9C255.3,285.5 254.3,284.4 253.5,283.0C252.7,281.6 251.4,280.2 250.9,278.7C250.4,277.1 250.5,275.1 250.4,273.6C250.3,272.1 250.7,270.9 250.3,269.8C250.0,268.6 248.6,267.0 248.3,266.5" fill="none" stroke="#4a4a4a" stroke-width="0.95" stroke-linejoin="round" stroke-linecap="round" />
<path d="M255.7,288.4C255.3,288.2 254.1,287.7 253.6,287.5C253.0,287.3 252.4,287.3 252.2,287.3" fill="none" stroke="#4a4a4a" stroke-width="0.8" stroke-linejoin="round" stroke-linecap="round" />
<path d="M255.7,288.4C255.9,288.2 256.4,287.5 256.6,287.2C256.8,286.8 256.9,286.5 256.9,286.3" fill="none" stroke="#4a4a4a" stroke-width="0.8" stroke-linejoin="round" stroke-linecap="round" />
<path d="M253.5,283.0C253.4,283.0 253.0,282.7 252.7,282.6C252.3,282.5 251.8,282.3 251.6,282.3" fill="none" stroke="#4a4a4a" stroke-width="0.8" stroke-linejoin="round" stroke-linecap="round" />
<path d="M253.5,283.0C253.7,282.9 254.3,282.6 254.6,282.2C254.9,281.8 255.1,280.9 255.2,280.6" fill="none" stroke="#4a4a4a" stroke-width="0.8" stroke-linejoin="round" stroke-linecap="round" />
<path d="M251.7,277.5C251.5,277.5 251.1,277.1 250.8,277.1C250.4,277.0 250.0,277.1 249.8,277.1" fill="none" stroke="#4a4a4a" stroke-width="0.8" stroke-linejoin="round" stroke-linecap="round" />
<path d="M251.7,277.5C251.8,277.3 252.2,276.6 252.3,276.3C252.5,275.9 252.6,275.6 252.6,275.5" fill="none" stroke="#4a4a4a" stroke-width="0.8" stroke-linejoin="round" stroke-linecap="round" />
<path d="M250.1,272.5C250.0,272.5 249.7,272.3 249.5,272.2C249.2,272.1 248.7,271.9 248.5,271.8" fill="none" stroke="#4a4a4a" stroke-width="0.8" stroke-linejoin="round" stroke-linecap="round" />
<path d="M250.1,272.5C250.2,272.5 250.5,272.2 250.7,272.0C250.9,271.7 251.3,271.1 251.5,270.9" fill="none" stroke="#4a4a4a" stroke-width="0.8" stroke-linejoin="round" stroke-linecap="round" />
<path d="M244.9,292.6C245.1,291.8 246.0,289.4 246.0,287.8C245.9,286.2 244.9,284.6 244.6,283.0C244.3,281.4 244.0,279.8 244.1,278.3C244.2,276.7 244.7,274.9 245.2,273.6C245.7,272.3 246.7,271.4 246.9,270.2C247.0,269.0 246.2,267.1 246.1,266.5" fill="none" stroke="#4a4a4a" stroke-width="0.95" stroke-linejoin="round" stroke-linecap="round" />
<path d="M244.8,289.5C244.6,289.4 244.0,289.1 243.6,288.9C243.3,288.7 242.7,288.3 242.6,288.2" fill="none" stroke="#4a4a4a" stroke-width="0.8" stroke-linejoin="round" stroke-linecap="round" />
<path d="M244.8,289.5C245.0,289.4 245.7,289.3 246.2,289.1C246.6,288.8 247.2,288.2 247.4,288.1" fill="none" stroke="#4a4a4a" stroke-width="0.8" stroke-linejoin="round" stroke-linecap="round" />
<path d="M244.6,283.7C244.4,283.6 243.6,283.3 243.1,283.1C242.6,282.8 241.9,282.3 241.6,282.2" fill="none" stroke="#4a4a4a" stroke-width="0.8" stroke-linejoin="round" stroke-linecap="round" />
<path d="M244.6,283.7C244.8,283.5 245.6,283.1 246.0,282.8C246.3,282.4 246.7,281.8 246.8,281.6" fill="none" stroke="#4a4a4a" stroke-width="0.8" stroke-linejoin="round" stroke-linecap="round" />
<path d="M244.9,278.0C244.8,277.9 244.7,278.0 244.4,277.8C244.2,277.6 243.5,277.0 243.3,276.9" fill="none" stroke="#4a4a4a" stroke-width="0.8" stroke-linejoin="round" stroke-linecap="round" />
<path d="M244.9,278.0C245.1,277.9 245.9,277.5 246.2,277.4C246.6,277.3 246.9,277.2 247.1,277.1" fill="none" stroke="#4a4a4a" stroke-width="0.8" stroke-linejoin="round" stroke-linecap="round" />
<path d="M245.3,272.7C245.1,272.6 244.6,272.0 244.3,271.8C244.0,271.6 243.6,271.6 243.5,271.5" fill="none" stroke="#4a4a4a" stroke-width="0.8" stroke-linejoin="round" stroke-linecap="round" />
<path d="M245.3,272.7C245.5,272.7 246.1,272.4 246.4,272.3C246.6,272.1 246.9,271.9 247.0,271.8" fill="none" stroke="#4a4a4a" stroke-width="0.8" stroke-linejoin="round" stroke-linecap="round" />
<path d="M234.5,289.5C234.8,288.9 236.0,287.0 236.4,285.7C236.9,284.4 236.8,282.9 237.0,281.5C237.2,280.1 237.0,278.4 237.5,277.1C238.0,275.8 239.4,274.7 240.2,273.6C241.0,272.5 241.9,271.5 242.4,270.3C242.9,269.2 243.2,267.1 243.3,266.5" fill="none" stroke="#4a4a4a" stroke-width="0.95" stroke-linejoin="round" stroke-linecap="round" />
<path d="M235.4,286.7C235.2,286.6 234.6,286.3 234.3,286.0C234.0,285.6 233.7,285.0 233.6,284.8" fill="none" stroke="#4a4a4a" stroke-width="0.8" stroke-linejoin="round" stroke-linecap="round" />
<path d="M235.4,286.7C235.6,286.6 236.2,286.5 236.6,286.3C236.9,286.1 237.5,285.6 237.7,285.5" fill="none" stroke="#4a4a4a" stroke-width="0.8" stroke-linejoin="round" stroke-linecap="round" />
<path d="M237.0,281.5C236.9,281.3 236.7,280.7 236.4,280.3C236.1,280.0 235.3,279.4 235.1,279.2" fill="none" stroke="#4a4a4a" stroke-width="0.8" stroke-linejoin="round" stroke-linecap="round" />
<path d="M237.0,281.5C237.1,281.5 237.5,281.5 237.8,281.5C238.2,281.4 238.9,281.4 239.1,281.4" fill="none" stroke="#4a4a4a" stroke-width="0.8" stroke-linejoin="round" stroke-linecap="round" />
<path d="M239.0,276.5C239.0,276.3 238.8,275.7 238.6,275.4C238.4,275.0 238.0,274.4 237.9,274.2" fill="none" stroke="#4a4a4a" stroke-width="0.8" stroke-linejoin="round" stroke-linecap="round" />
<path d="M239.0,276.5C239.2,276.4 239.7,276.3 240.1,276.3C240.4,276.2 241.2,276.2 241.4,276.2" fill="none" stroke="#4a4a4a" stroke-width="0.8" stroke-linejoin="round" stroke-linecap="round" />
<path d="M240.9,271.9C240.8,271.8 240.2,271.6 240.0,271.3C239.8,271.0 239.6,270.4 239.5,270.2" fill="none" stroke="#4a4a4a" stroke-width="0.8" stroke-linejoin="round" stroke-linecap="round" />
<path d="M240.9,271.9C241.1,271.9 241.6,271.7 241.9,271.7C242.2,271.7 242.7,271.8 242.8,271.9" fill="none" stroke="#4a4a4a" stroke-width="0.8" stroke-linejoin="round" stroke-linecap="round" />
<path d="M229.5,278.5C230.0,278.2 231.7,277.5 232.5,276.7C233.2,275.9 233.4,274.6 233.9,273.6C234.4,272.6 234.8,271.3 235.5,270.5C236.3,269.8 237.6,269.4 238.6,268.9C239.6,268.4 240.7,268.4 241.3,267.7C242.0,267.1 242.3,265.5 242.5,265.0" fill="none" stroke="#4a4a4a" stroke-width="0.95" stroke-linejoin="round" stroke-linecap="round" />
<path d="M231.0,276.8C231.0,276.5 231.0,275.4 231.0,274.7C230.9,274.1 230.9,273.1 230.9,272.8" fill="none" stroke="#4a4a4a" stroke-width="0.8" stroke-linejoin="round" stroke-linecap="round" />
<path d="M231.0,276.8C231.3,276.9 232.1,277.2 232.6,277.4C233.1,277.5 234.0,277.5 234.2,277.6" fill="none" stroke="#4a4a4a" stroke-width="0.8" stroke-linejoin="round" stroke-linecap="round" />
<path d="M233.8,273.8C233.7,273.6 233.6,273.2 233.6,272.7C233.6,272.3 233.6,271.3 233.6,271.0" fill="none" stroke="#4a4a4a" stroke-width="0.8" stroke-linejoin="round" stroke-linecap="round" />
<path d="M233.8,273.8C233.9,273.8 234.5,273.7 234.9,273.8C235.3,273.9 235.9,274.3 236.1,274.4" fill="none" stroke="#4a4a4a" stroke-width="0.8" stroke-linejoin="round" stroke-linecap="round" />
<path d="M236.7,270.8C236.7,270.6 236.9,269.9 236.8,269.5C236.7,269.1 236.4,268.4 236.3,268.2" fill="none" stroke="#4a4a4a" stroke-width="0.8" stroke-linejoin="round" stroke-linecap="round" />
<path d="M236.7,270.8C236.8,270.9 237.4,271.2 237.7,271.3C238.0,271.3 238.4,271.0 238.6,271.0" fill="none" stroke="#4a4a4a" stroke-width="0.8" stroke-linejoin="round" stroke-linecap="round" />
<path d="M239.3,268.2C239.3,268.0 238.9,267.2 238.9,266.9C238.9,266.5 239.2,266.2 239.3,266.1" fill="none" stroke="#4a4a4a" stroke-width="0.8" stroke-linejoin="round" stroke-linecap="round" />
<path d="M239.3,268.2C239.5,268.2 239.9,268.1 240.2,268.1C240.5,268.1 241.2,268.3 241.4,268.3" fill="none" stroke="#4a4a4a" stroke-width="0.8" stroke-linejoin="round" stroke-linecap="round" />
<path d="M241.1,236.8C241.1,237.3 240.9,238.9 241.1,239.8C241.3,240.7 241.9,241.9 242.1,242.3" fill="none" stroke="#4a4a4a" stroke-width="0.9" stroke-linejoin="round" stroke-linecap="round" />
<path d="M252.7,238.2C252.6,238.5 252.3,239.3 252.1,240.0C251.9,240.7 251.6,242.0 251.5,242.4" fill="none" stroke="#4a4a4a" stroke-width="0.9" stroke-linejoin="round" stroke-linecap="round" />
<path d="M263.4,244.7C263.1,244.9 262.3,245.6 261.8,246.2C261.3,246.7 260.4,247.5 260.1,247.8" fill="none" stroke="#4a4a4a" stroke-width="0.9" stroke-linejoin="round" stroke-linecap="round" />
<path d="M273.9,256.5C273.5,256.6 272.2,256.8 271.4,257.0C270.6,257.1 269.5,257.3 269.1,257.4" fill="none" stroke="#4a4a4a" stroke-width="0.9" stroke-linejoin="round" stroke-linecap="round" />
<path d="M274.3,281.6C274.0,281.4 272.8,280.9 272.2,280.5C271.6,280.1 271.0,279.3 270.7,279.1" fill="none" stroke="#4a4a4a" stroke-width="0.9" stroke-linejoin="round" stroke-linecap="round" />
<path d="M263.9,289.7C263.7,289.3 262.9,288.5 262.4,287.7C261.9,287.0 261.1,285.4 260.8,285.0" fill="none" stroke="#4a4a4a" stroke-width="0.9" stroke-linejoin="round" stroke-linecap="round" />
<path d="M251.1,293.1C251.1,292.6 251.2,291.0 251.1,290.1C250.9,289.2 250.3,288.1 250.2,287.7" fill="none" stroke="#4a4a4a" stroke-width="0.9" stroke-linejoin="round" stroke-linecap="round" />
<path d="M239.5,292.2C239.6,291.8 240.2,290.8 240.4,289.8C240.6,288.9 240.6,287.1 240.6,286.5" fill="none" stroke="#4a4a4a" stroke-width="0.9" stroke-linejoin="round" stroke-linecap="round" />
<path d="M231.4,285.0C231.5,284.8 232.0,284.2 232.4,283.5C232.8,282.8 233.6,281.4 233.9,281.0" fill="none" stroke="#4a4a4a" stroke-width="0.9" stroke-linejoin="round" stroke-linecap="round" />
<path d="M196.0,236.0C192.4,237.2 192.0,237.8 190.5,241.0C189.0,244.2 187.4,250.7 187.0,255.0C186.6,259.3 186.8,263.0 188.0,267.0C189.2,271.0 191.8,275.7 194.0,279.0C196.2,282.3 199.3,284.3 201.0,287.0C202.7,289.7 203.4,292.0 204.0,295.0C204.6,298.0 204.3,301.7 204.5,305.0C204.7,308.3 205.3,310.0 205.0,315.0C204.7,320.0 203.3,328.3 202.7,335.0C202.1,341.7 201.6,348.9 201.4,355.0C201.2,361.1 201.4,371.7 201.4,371.7C201.4,371.7 205.8,373.4 208.0,373.6C210.2,373.8 214.7,373.0 214.7,373.0C214.7,373.0 213.3,363.3 213.0,357.8C212.7,352.3 212.1,346.3 212.7,340.0C213.3,333.7 215.3,326.2 216.5,320.0C217.7,313.8 218.6,307.7 220.0,303.0C221.4,298.3 223.4,295.7 225.0,292.0C226.6,288.3 229.3,285.2 229.5,281.0C229.7,276.8 227.2,271.3 226.0,267.0C224.8,262.7 223.5,259.5 222.0,255.0C220.5,250.5 218.7,243.5 217.0,240.0C215.3,236.5 215.5,234.7 212.0,234.0C208.5,233.3 199.6,234.8 196.0,236.0Z" fill="#c9c9c9" stroke="#4a4a4a" stroke-width="1.0" stroke-linejoin="round" stroke-linecap="round" />
<path d="M191.8,238.0C193.4,236.4 196.6,234.6 199.0,234.6C201.4,234.6 204.3,235.7 206.5,238.0C208.7,240.3 210.7,245.0 212.4,248.5C214.1,252.0 215.6,255.7 216.8,258.8C218.0,261.9 219.0,263.0 219.7,267.0C220.4,271.0 221.3,277.5 221.0,283.0C220.7,288.5 219.3,293.8 218.0,300.0C216.7,306.2 214.5,313.3 213.0,320.0C211.5,326.7 209.8,333.8 209.0,340.0C208.2,346.2 208.3,351.4 208.5,357.0C208.7,362.6 210.0,373.3 210.0,373.3C210.0,373.3 201.4,371.7 201.4,371.7C201.4,371.7 201.2,361.1 201.4,355.0C201.6,348.9 202.1,341.7 202.7,335.0C203.3,328.3 204.7,320.0 205.0,315.0C205.3,310.0 204.7,308.3 204.5,305.0C204.3,301.7 204.6,298.0 204.0,295.0C203.4,292.0 202.7,289.7 201.0,287.0C199.3,284.3 196.2,282.3 194.0,279.0C191.8,275.7 189.2,271.0 188.0,267.0C186.8,263.0 186.8,258.8 187.0,255.0C187.2,251.2 188.7,246.8 189.5,244.0C190.3,241.2 190.2,239.6 191.8,238.0Z" fill="#e2e2e2" stroke="#4a4a4a" stroke-width="1.0" stroke-linejoin="round" stroke-linecap="round" />
<path d="M199.0,290.0C199.7,289.5 202.1,286.7 203.0,287.0C203.9,287.3 204.2,291.2 204.5,292.0" fill="none" stroke="#4a4a4a" stroke-width="0.8" stroke-linejoin="round" stroke-linecap="round" />
<path d="M174.0,251.5C174.2,251.9 172.7,253.6 172.5,255.0C172.3,256.4 172.9,258.3 172.8,260.0C172.7,261.7 172.6,263.6 172.0,265.0C171.4,266.4 170.6,267.8 169.5,268.3C168.4,268.9 166.6,268.9 165.5,268.3C164.4,267.8 163.4,266.4 163.0,265.0C162.6,263.6 162.6,261.4 162.8,260.0C163.1,258.6 163.6,257.3 164.5,256.5C165.4,255.7 166.9,255.7 168.0,255.0C169.1,254.3 170.0,253.1 171.0,252.5C172.0,251.9 173.8,251.1 174.0,251.5Z" fill="#c9c9c9" stroke="#4a4a4a" stroke-width="0.9" stroke-linejoin="round" stroke-linecap="round" />
<linearGradient id="rg2" gradientUnits="userSpaceOnUse" x1="117.3" y1="156.8" x2="132.1" y2="175.0"><stop offset="0" stop-color="#ee1b1b"/><stop offset="0.45" stop-color="#f02a26"/><stop offset="0.62" stop-color="#ee1f1f"/><stop offset="0.86" stop-color="#ef2f28" stop-opacity="0.95"/><stop offset="1" stop-color="#f36a58" stop-opacity="0.55"/></linearGradient>
<path d="M95.5,188.6 C98.9,167.0 131.1,140.9 153,142 C153.2,161.1 114.2,197.5 95.5,188.6Z" fill="url(#rg2)" filter="url(#soft3)"/>
<path d="M112.5,135 C116.5,138 116,144 112,149 C109,153 106,157 101.5,163" fill="none" stroke="#000" stroke-width="5.5" stroke-linecap="round"/>
<path d="M98.5,153.5 L106.8,158.2 L114.8,152.2 L117.8,140.6 L109,143 L101,149.5Z" fill="#000" stroke="#000" stroke-width="1" stroke-linejoin="round"/>
<path d="M101.5,135.6 C104,132.3 110,130.6 114.6,131.8 C112.5,135 107,136.6 101.5,135.6Z" fill="#fff"/>
<path d="M94,150.8 C97,147 102,144.6 107.2,144.4 C105.5,148.4 100,150.8 94,150.8Z" fill="#fff"/>
</g>

<g transform="translate(335,0)">
<path d="M82.0,127.5C82.0,127.5 83.0,123.5 86.0,121.0C89.0,118.5 94.3,115.0 100.0,112.2C105.7,109.4 115.3,105.9 120.0,104.0C124.7,102.1 122.9,102.6 128.0,101.0C133.1,99.4 143.7,95.8 150.7,94.3C157.7,92.8 164.3,92.5 170.0,92.0C175.7,91.5 178.7,91.1 185.0,91.3C191.3,91.5 199.7,92.0 207.7,93.4C215.7,94.8 224.4,97.1 232.8,99.8C241.2,102.5 249.6,105.8 258.0,109.8C266.4,113.8 275.9,119.3 283.0,124.0C290.1,128.7 295.2,133.2 300.6,138.0C306.1,142.8 310.7,146.8 315.7,153.0C320.7,159.2 327.4,168.8 330.8,175.0C334.2,181.2 334.6,184.6 335.8,190.0C337.0,195.4 337.6,201.9 337.8,207.7C338.0,213.5 337.5,218.8 337.0,225.0C336.5,231.2 335.6,239.2 334.6,245.0C333.6,250.8 331.9,256.2 330.8,260.0C329.7,263.8 329.7,264.2 328.0,268.0C326.3,271.8 322.5,279.3 320.5,283.0C318.5,286.7 318.2,286.8 316.0,290.0C313.8,293.2 311.2,297.4 307.0,302.0C302.8,306.6 295.4,312.9 290.6,317.6C285.8,322.3 281.4,325.8 278.0,330.0C274.6,334.2 272.2,338.2 270.5,342.8C268.8,347.4 268.0,351.9 267.5,357.8C267.0,363.7 267.0,371.3 267.5,378.0C268.0,384.7 269.2,391.7 270.5,398.0C271.8,404.3 273.8,411.3 275.5,416.0C277.2,420.7 278.0,423.7 280.5,426.0C283.0,428.3 287.2,427.6 290.6,429.7C294.0,431.8 296.9,434.9 300.6,438.5C304.3,442.1 309.6,447.8 313.0,451.0C316.4,454.2 318.7,456.2 320.7,458.0C322.7,459.8 325.0,462.0 325.0,462.0C325.0,462.0 55.0,462.0 55.0,462.0C55.0,462.0 58.1,459.8 61.5,458.0C64.9,456.2 69.7,453.4 75.4,451.0C81.1,448.6 90.0,445.4 95.5,443.5C101.0,441.6 108.5,439.7 108.5,439.7C108.5,439.7 107.5,429.0 106.8,423.4C106.0,417.8 105.0,410.2 104.0,405.8C103.0,401.4 102.3,399.0 100.5,397.0C98.7,395.0 97.2,394.9 93.0,394.0C88.8,393.1 81.3,392.8 75.4,391.8C69.5,390.8 62.6,389.7 57.8,388.0C53.0,386.3 49.4,384.2 46.5,381.7C43.6,379.2 41.5,376.1 40.2,373.0C39.0,369.9 38.5,366.8 39.0,363.0C39.5,359.2 42.4,353.8 43.2,350.0C44.0,346.2 44.6,342.7 44.0,340.0C43.4,337.3 40.5,336.5 39.7,334.0C38.9,331.5 38.7,327.7 39.0,325.0C39.3,322.3 41.8,320.1 41.5,317.6C41.2,315.1 37.8,312.9 37.2,310.0C36.6,307.1 37.0,303.3 37.7,300.0C38.4,296.7 40.7,292.4 41.5,290.0C42.3,287.6 43.3,287.1 42.7,285.5C42.1,283.9 40.2,282.2 37.7,280.5C35.2,278.8 29.8,277.6 28.0,275.5C26.2,273.4 26.4,270.9 27.0,268.0C27.6,265.1 28.8,262.2 31.4,258.0C34.0,253.8 38.9,247.8 42.7,243.0C46.5,238.2 51.3,233.0 54.0,229.0C56.7,225.0 58.4,223.0 59.0,219.0C59.6,215.0 57.9,210.0 57.8,205.0C57.7,200.0 57.6,193.8 58.3,189.0C59.0,184.2 60.2,180.6 62.0,176.0C63.8,171.4 66.3,166.1 69.0,161.5C71.7,156.9 75.0,152.9 78.0,148.5C81.0,144.1 86.3,138.5 87.0,135.0C87.7,131.5 82.0,127.5 82.0,127.5Z" fill="#000" filter="url(#soft)"/>
</g>
<g transform="translate(335.5,4)">
<path d="M65.8,246.6C65.8,246.6 65.8,236.8 66.0,232.0C66.2,227.2 66.5,222.7 67.0,218.0C67.5,213.3 68.3,207.5 68.8,204.0C69.3,200.5 69.2,200.1 70.0,197.0C70.8,193.9 72.2,189.2 73.6,185.3C75.0,181.4 76.3,177.3 78.3,173.6C80.2,169.9 82.5,166.1 85.3,163.0C88.0,159.9 91.5,158.0 94.8,155.3C98.1,152.6 101.3,149.6 105.0,147.0C108.7,144.4 112.2,141.9 117.0,139.7C121.8,137.5 127.9,135.7 133.6,133.8C139.3,131.9 145.3,129.8 151.2,128.5C157.1,127.2 162.4,126.5 168.9,126.2C175.4,125.9 181.5,126.3 190.0,126.8C198.5,127.3 210.8,127.4 220.0,129.0C229.2,130.6 237.0,133.4 245.4,136.6C253.8,139.8 263.4,144.2 270.5,148.0C277.6,151.8 282.6,155.0 288.0,159.3C293.4,163.6 298.8,169.1 303.0,174.0C307.2,178.9 310.4,183.4 313.0,189.0C315.6,194.6 317.4,201.7 318.5,207.7C319.6,213.7 319.8,219.6 319.8,225.0C319.8,230.4 319.1,235.3 318.5,240.0C317.9,244.7 318.0,247.8 316.5,253.0C315.0,258.2 313.1,265.1 309.5,271.0C305.9,276.9 300.1,283.5 295.0,288.5C289.9,293.5 284.5,297.8 279.0,301.0C273.5,304.2 266.8,306.2 262.0,307.5C257.2,308.8 253.2,308.5 250.0,308.5C246.8,308.5 244.7,308.2 243.0,307.5C241.3,306.8 240.2,305.6 240.0,304.4C239.8,303.2 239.8,301.2 241.8,300.5C243.8,299.8 247.3,301.0 252.0,300.0C256.7,299.0 264.3,297.2 270.0,294.5C275.7,291.8 281.0,288.3 286.0,284.0C291.0,279.7 296.3,274.0 300.0,268.5C303.7,263.0 306.1,257.2 308.0,251.0C309.9,244.8 310.8,238.2 311.5,231.0C312.2,223.8 312.8,214.5 312.0,207.7C311.2,200.9 309.3,195.3 307.0,190.0C304.7,184.7 301.2,179.8 298.0,176.0C294.8,172.2 292.6,170.5 288.0,167.0C283.4,163.5 277.6,158.9 270.5,155.0C263.4,151.1 253.8,146.6 245.4,143.4C237.0,140.2 228.4,137.6 220.0,136.0C211.6,134.4 201.6,134.0 195.0,133.6C188.4,133.2 186.0,133.4 180.7,133.7C175.4,134.0 168.9,134.5 163.0,135.4C157.1,136.3 151.2,137.4 145.3,139.0C139.4,140.6 132.8,142.8 127.7,144.7C122.6,146.6 118.0,148.6 114.7,150.3C111.4,152.0 110.2,153.3 108.0,155.0C105.8,156.7 103.8,158.5 101.8,160.6C99.8,162.7 98.0,165.1 96.0,167.7C94.0,170.3 91.8,173.1 90.0,176.0C88.2,178.9 86.6,182.2 85.3,185.3C84.0,188.4 83.1,191.7 82.4,194.8C81.7,197.9 81.1,201.1 81.2,204.0C81.3,206.9 82.3,209.2 83.0,212.0C83.7,214.8 84.6,218.2 85.5,221.0C86.4,223.8 88.4,229.0 88.4,229.0C88.4,229.0 87.2,230.0 85.0,231.5C82.8,233.0 78.6,235.3 75.4,237.8C72.2,240.3 65.8,246.6 65.8,246.6Z" fill="#f6f6f6" stroke="#000" stroke-width="0.9"/>
</g>
<g transform="translate(336.5,3.8)">
<path d="M96.0,189.0C97.5,185.6 99.3,180.7 102.0,177.0C104.7,173.3 108.3,170.2 112.0,167.0C115.7,163.8 119.7,160.8 124.0,158.0C128.3,155.2 133.3,152.4 138.0,150.0C142.7,147.6 147.5,144.9 152.0,143.5C156.5,142.1 160.7,142.0 165.0,141.5C169.3,141.0 173.8,140.7 178.0,140.5C182.2,140.3 185.8,140.3 190.0,140.5C194.2,140.7 198.9,141.0 203.0,141.5C207.1,142.0 210.1,142.5 214.4,143.5C218.7,144.5 224.1,146.0 229.0,147.5C233.9,149.0 239.4,150.8 243.8,152.6C248.2,154.4 251.7,155.8 255.6,158.5C259.5,161.2 264.0,165.6 267.4,168.8C270.8,172.0 272.9,174.2 276.0,177.6C279.1,181.0 283.7,185.9 286.3,189.5C288.9,193.1 289.8,195.6 291.5,199.0C293.2,202.4 295.1,205.8 296.5,210.0C297.9,214.2 299.2,219.3 300.0,224.0C300.8,228.7 301.1,233.8 301.0,238.0C300.9,242.2 300.1,246.0 299.3,249.0C298.5,252.0 296.0,256.0 296.0,256.0C296.0,256.0 290.7,257.7 288.0,257.0C285.3,256.3 283.3,254.3 280.0,252.0C276.7,249.7 272.0,245.7 268.0,243.0C264.0,240.3 259.8,237.7 256.0,236.0C252.2,234.3 245.0,233.0 245.0,233.0C245.0,233.0 242.2,236.5 240.0,238.0C237.8,239.5 234.7,241.0 232.0,242.0C229.3,243.0 226.8,244.3 224.0,244.0C221.2,243.7 219.0,241.3 215.0,240.0C211.0,238.7 205.0,236.7 200.0,236.0C195.0,235.3 188.1,236.3 185.0,236.0C181.9,235.7 182.6,232.8 181.4,234.0C180.2,235.2 179.5,240.5 177.7,243.0C175.9,245.5 173.1,247.2 170.4,248.8C167.7,250.4 164.9,252.0 161.5,252.5C158.1,253.0 154.2,252.5 149.8,251.8C145.4,251.1 139.9,249.8 135.0,248.2C130.1,246.6 124.7,244.3 120.2,242.3C115.8,240.3 111.7,238.8 108.3,236.2C104.9,233.6 102.2,230.1 99.8,226.8C97.4,223.5 95.2,220.0 93.9,216.5C92.6,213.0 91.9,209.2 91.7,206.0C91.5,202.8 92.3,200.2 93.0,197.4C93.7,194.6 94.5,192.4 96.0,189.0Z" fill="#ebebeb" stroke="#4a4a4a" stroke-width="1.0" stroke-linejoin="round" stroke-linecap="round" />
<path d="M93.9,198.8C95.4,199.5 100.5,201.5 102.7,203.2C104.9,204.9 106.0,207.0 107.0,209.0C108.0,211.0 107.3,212.8 108.6,215.0C109.8,217.2 111.8,220.2 114.5,222.4C117.2,224.6 121.1,226.0 124.8,228.2C128.5,230.4 132.8,233.5 136.5,235.6C140.2,237.7 144.1,239.5 146.8,240.7C149.5,241.9 151.7,242.6 152.7,243.0" fill="none" stroke="#4a4a4a" stroke-width="1.1" stroke-linejoin="round" stroke-linecap="round" />
<path d="M114.5,194.4C115.0,195.4 115.7,198.6 117.4,200.3C119.1,202.0 123.2,202.8 124.8,204.7C126.4,206.6 125.8,209.6 127.0,212.0C128.2,214.4 129.9,217.4 132.0,219.4C134.1,221.4 137.0,222.1 139.5,223.8C142.0,225.5 144.1,228.0 146.8,229.7C149.5,231.4 153.2,232.8 155.6,234.0C158.0,235.2 160.8,235.8 161.5,237.0C162.2,238.2 160.2,240.8 160.0,241.5" fill="none" stroke="#4a4a4a" stroke-width="1.1" stroke-linejoin="round" stroke-linecap="round" />
<path d="M124.8,204.7C125.8,203.7 129.1,200.8 130.6,198.8C132.1,196.9 133.1,194.0 133.6,193.0" fill="none" stroke="#4a4a4a" stroke-width="1.1" stroke-linejoin="round" stroke-linecap="round" />
<path d="M139.5,223.8C139.8,222.8 141.0,219.7 141.0,218.0C141.0,216.3 139.8,214.2 139.5,213.5" fill="none" stroke="#4a4a4a" stroke-width="1.1" stroke-linejoin="round" stroke-linecap="round" />
<path d="M161.5,237.0C162.5,236.5 165.7,234.7 167.4,234.0C169.1,233.3 171.1,232.8 171.8,232.6" fill="none" stroke="#4a4a4a" stroke-width="1.1" stroke-linejoin="round" stroke-linecap="round" />
<path d="M104.0,229.0C105.3,229.5 109.3,230.7 112.0,232.0C114.7,233.3 118.7,236.2 120.0,237.0" fill="none" stroke="#4a4a4a" stroke-width="1.1" stroke-linejoin="round" stroke-linecap="round" />
<path d="M163.5,142.4C163.8,143.6 165.0,147.8 165.0,149.7C165.0,151.6 163.0,152.3 163.5,154.0C164.0,155.7 167.0,158.3 168.0,160.0C169.0,161.7 169.2,163.7 169.4,164.4" fill="none" stroke="#4a4a4a" stroke-width="1.1" stroke-linejoin="round" stroke-linecap="round" />
<path d="M165.0,149.7C165.7,149.9 168.3,150.8 169.0,151.0" fill="none" stroke="#4a4a4a" stroke-width="1.1" stroke-linejoin="round" stroke-linecap="round" />
<path d="M185.6,142.4C186.0,143.6 187.4,147.8 187.8,149.7C188.2,151.6 188.2,151.8 188.0,154.0C187.8,156.2 187.0,161.0 186.5,163.0C186.0,165.0 185.2,165.5 185.0,166.0" fill="none" stroke="#4a4a4a" stroke-width="1.1" stroke-linejoin="round" stroke-linecap="round" />
<path d="M148.8,157.0C149.8,158.2 153.5,161.9 154.7,164.4C155.9,166.9 155.9,169.9 156.2,171.8C156.4,173.7 156.2,175.3 156.2,176.0" fill="none" stroke="#4a4a4a" stroke-width="1.1" stroke-linejoin="round" stroke-linecap="round" />
<path d="M131.6,151.1C131.8,152.4 133.1,156.8 133.1,159.2C133.1,161.6 131.4,163.6 131.6,165.8C131.8,168.0 133.2,170.6 134.5,172.4C135.8,174.2 138.8,176.1 139.7,176.8" fill="none" stroke="#4a4a4a" stroke-width="1.1" stroke-linejoin="round" stroke-linecap="round" />
<path d="M114.0,176.8C115.5,177.3 120.7,179.3 122.8,179.8C124.9,180.3 126.1,179.9 126.8,179.9" fill="none" stroke="#4a4a4a" stroke-width="1.1" stroke-linejoin="round" stroke-linecap="round" />
<path d="M202.0,166.6C200.0,166.6 194.0,166.4 190.0,166.6C186.0,166.8 182.1,167.1 178.2,168.0C174.3,168.9 170.2,170.4 166.5,171.8C162.8,173.2 159.1,174.5 156.2,176.2C153.2,177.9 150.8,179.8 148.8,182.0C146.8,184.2 145.2,186.9 144.4,189.4C143.6,191.9 143.7,194.7 143.7,196.8C143.7,198.9 144.3,201.1 144.4,202.0" fill="none" stroke="#4a4a4a" stroke-width="1.1" stroke-linejoin="round" stroke-linecap="round" />
<path d="M140.0,165.9C140.5,166.9 142.6,170.1 143.0,171.8C143.4,173.5 142.3,175.5 142.2,176.2" fill="none" stroke="#4a4a4a" stroke-width="1.1" stroke-linejoin="round" stroke-linecap="round" />
<path d="M126.8,179.9C127.8,180.8 131.1,183.2 132.6,185.0C134.1,186.8 135.4,188.9 135.6,190.9C135.8,192.9 134.9,195.0 134.0,196.8C133.1,198.7 131.9,200.7 130.4,202.0C128.9,203.3 125.7,204.2 124.8,204.7" fill="none" stroke="#4a4a4a" stroke-width="1.1" stroke-linejoin="round" stroke-linecap="round" />
<path d="M107.6,187.2C108.1,187.8 109.4,189.3 110.6,190.9C111.8,192.5 113.9,195.2 115.0,196.8C116.1,198.4 117.0,199.7 117.4,200.3" fill="none" stroke="#4a4a4a" stroke-width="1.1" stroke-linejoin="round" stroke-linecap="round" />
<path d="M202.6,143.0C202.8,144.8 203.9,150.7 204.0,154.0C204.1,157.3 203.7,160.9 203.4,163.0C203.1,165.1 202.2,166.0 202.0,166.6" fill="none" stroke="#4a4a4a" stroke-width="1.1" stroke-linejoin="round" stroke-linecap="round" />
<path d="M213.7,144.6C214.2,146.2 215.9,150.7 216.6,154.0C217.3,157.3 217.4,161.0 218.0,164.4C218.6,167.8 219.4,172.0 220.3,174.7C221.2,177.4 222.7,179.6 223.2,180.6" fill="none" stroke="#4a4a4a" stroke-width="1.1" stroke-linejoin="round" stroke-linecap="round" />
<path d="M230.6,149.0C231.2,150.3 234.1,154.4 234.3,157.0C234.5,159.6 232.9,161.9 232.0,164.4C231.1,166.9 229.1,169.9 229.0,171.8C228.9,173.7 231.1,175.3 231.5,176.0" fill="none" stroke="#4a4a4a" stroke-width="1.1" stroke-linejoin="round" stroke-linecap="round" />
<path d="M252.0,157.0C252.3,158.2 254.4,161.7 254.0,164.4C253.6,167.1 251.4,170.5 249.7,173.2C248.0,175.9 245.5,178.1 243.8,180.6C242.1,183.1 240.1,186.8 239.4,188.0" fill="none" stroke="#4a4a4a" stroke-width="1.1" stroke-linejoin="round" stroke-linecap="round" />
<path d="M271.8,174.7C271.3,175.9 270.5,179.6 268.8,182.0C267.1,184.4 263.7,187.4 261.5,189.4C259.3,191.4 256.6,193.1 255.6,193.8" fill="none" stroke="#4a4a4a" stroke-width="1.1" stroke-linejoin="round" stroke-linecap="round" />
<path d="M202.0,166.6C203.6,167.5 209.4,170.0 211.5,171.8C213.6,173.6 215.2,176.4 214.4,177.6C213.7,178.8 210.7,179.3 207.0,179.0C203.3,178.7 196.1,176.2 192.4,176.0C188.7,175.8 186.2,177.7 185.0,178.0" fill="none" stroke="#4a4a4a" stroke-width="1.1" stroke-linejoin="round" stroke-linecap="round" />
<path d="M218.0,176.0C218.9,177.0 220.9,180.4 223.2,182.0C225.5,183.6 229.0,184.7 232.0,185.7C235.0,186.7 238.5,186.7 241.0,188.0C243.5,189.3 245.4,192.3 246.8,193.8C248.2,195.3 248.5,196.8 249.7,196.8C250.9,196.8 253.3,194.3 254.0,193.8" fill="none" stroke="#4a4a4a" stroke-width="1.1" stroke-linejoin="round" stroke-linecap="round" />
<path d="M257.6,202.0C258.1,203.2 259.4,207.2 260.6,209.4C261.8,211.6 264.1,213.4 265.0,215.3C265.9,217.2 266.2,218.8 265.7,221.0C265.2,223.2 263.1,226.8 262.0,228.5C260.9,230.2 259.5,230.6 259.0,231.0" fill="none" stroke="#4a4a4a" stroke-width="1.1" stroke-linejoin="round" stroke-linecap="round" />
<path d="M265.0,215.3C266.5,214.8 271.1,213.9 273.8,212.4C276.5,210.9 278.8,208.5 281.0,206.5C283.2,204.5 285.8,202.3 287.0,200.6C288.2,198.8 288.2,196.8 288.5,196.0" fill="none" stroke="#4a4a4a" stroke-width="1.1" stroke-linejoin="round" stroke-linecap="round" />
<path d="M265.7,221.0C265.8,222.2 265.9,226.0 266.5,228.5C267.1,231.0 268.2,233.7 269.4,235.9C270.6,238.1 273.1,240.8 273.8,241.8" fill="none" stroke="#4a4a4a" stroke-width="1.1" stroke-linejoin="round" stroke-linecap="round" />
<path d="M288.5,219.7C289.0,219.9 290.8,220.3 291.5,221.0C292.2,221.7 292.8,223.5 293.0,224.0" fill="none" stroke="#4a4a4a" stroke-width="1.1" stroke-linejoin="round" stroke-linecap="round" />
<path d="M291.5,221.0C292.0,220.7 294.0,219.3 294.5,219.0" fill="none" stroke="#4a4a4a" stroke-width="1.1" stroke-linejoin="round" stroke-linecap="round" />
<path d="M276.8,230.0C277.3,231.0 278.2,233.9 279.7,235.9C281.2,237.9 283.6,240.1 285.6,241.8C287.6,243.5 290.5,245.3 291.5,246.0" fill="none" stroke="#4a4a4a" stroke-width="1.1" stroke-linejoin="round" stroke-linecap="round" />
<path d="M259.0,193.0C260.5,192.1 266.0,188.7 268.0,187.4C270.0,186.2 270.5,185.8 271.0,185.5" fill="none" stroke="#4a4a4a" stroke-width="1.1" stroke-linejoin="round" stroke-linecap="round" />
<path d="M249.0,196.0C249.3,195.0 250.1,192.2 251.0,190.0C251.9,187.8 254.1,184.2 254.7,183.0" fill="none" stroke="#4a4a4a" stroke-width="1.1" stroke-linejoin="round" stroke-linecap="round" />
<path d="M250.0,215.0C250.2,215.8 251.4,217.9 251.0,219.7C250.6,221.5 248.7,224.0 247.4,225.6C246.1,227.2 243.7,228.4 243.0,229.0" fill="none" stroke="#4a4a4a" stroke-width="1.1" stroke-linejoin="round" stroke-linecap="round" />
<path d="M232.0,164.4C232.7,164.8 235.3,166.2 236.0,166.5" fill="none" stroke="#4a4a4a" stroke-width="0.9" stroke-linejoin="round" stroke-linecap="round" />
<path d="M249.7,173.2C250.4,173.8 252.8,176.0 254.0,176.5C255.2,177.0 256.5,176.1 257.0,176.0" fill="none" stroke="#4a4a4a" stroke-width="0.9" stroke-linejoin="round" stroke-linecap="round" />
<path d="M268.8,182.0C269.7,182.5 273.1,184.5 274.0,185.0" fill="none" stroke="#4a4a4a" stroke-width="0.9" stroke-linejoin="round" stroke-linecap="round" />
<path d="M204.0,154.0C204.6,154.2 206.9,155.2 207.5,155.5" fill="none" stroke="#4a4a4a" stroke-width="0.9" stroke-linejoin="round" stroke-linecap="round" />
<path d="M176.0,141.0C176.2,142.2 177.1,146.0 177.0,148.0C176.9,150.0 175.8,152.2 175.5,153.0" fill="none" stroke="#4a4a4a" stroke-width="0.9" stroke-linejoin="round" stroke-linecap="round" />
<path d="M241.0,155.0C241.1,156.0 241.8,159.2 241.5,161.0C241.2,162.8 239.8,165.2 239.5,166.0" fill="none" stroke="#4a4a4a" stroke-width="0.9" stroke-linejoin="round" stroke-linecap="round" />
<path d="M262.0,166.0C261.7,167.0 260.9,170.2 260.0,172.0C259.1,173.8 257.1,176.2 256.5,177.0" fill="none" stroke="#4a4a4a" stroke-width="0.9" stroke-linejoin="round" stroke-linecap="round" />
<path d="M281.0,196.0C280.2,196.5 277.5,197.7 276.0,199.0C274.5,200.3 272.7,203.2 272.0,204.0" fill="none" stroke="#4a4a4a" stroke-width="0.9" stroke-linejoin="round" stroke-linecap="round" />
<path d="M296.0,222.0C295.0,223.0 291.7,226.5 290.0,228.0C288.3,229.5 286.7,230.5 286.0,231.0" fill="none" stroke="#4a4a4a" stroke-width="0.9" stroke-linejoin="round" stroke-linecap="round" />
<path d="M283.0,238.0C283.8,238.8 287.2,242.2 288.0,243.0" fill="none" stroke="#4a4a4a" stroke-width="0.9" stroke-linejoin="round" stroke-linecap="round" />
<path d="M99.0,212.0C99.8,212.5 102.8,213.7 104.0,215.0C105.2,216.3 106.1,219.2 106.5,220.0" fill="none" stroke="#4a4a4a" stroke-width="0.9" stroke-linejoin="round" stroke-linecap="round" />
<path d="M116.0,236.0C117.3,236.3 121.5,236.9 124.0,238.0C126.5,239.1 129.8,241.8 131.0,242.5" fill="none" stroke="#4a4a4a" stroke-width="0.9" stroke-linejoin="round" stroke-linecap="round" />
<path d="M150.0,230.0C150.3,229.2 151.0,226.2 152.0,225.0C153.0,223.8 155.3,222.9 156.0,222.5" fill="none" stroke="#4a4a4a" stroke-width="0.9" stroke-linejoin="round" stroke-linecap="round" />
<path d="M120.0,189.0C120.3,189.8 121.8,192.3 122.0,194.0C122.2,195.7 121.2,198.2 121.0,199.0" fill="none" stroke="#4a4a4a" stroke-width="0.9" stroke-linejoin="round" stroke-linecap="round" />
<path d="M108.0,173.0C108.8,173.8 112.0,177.4 113.0,178.0C114.0,178.6 113.8,177.0 114.0,176.8" fill="none" stroke="#4a4a4a" stroke-width="0.9" stroke-linejoin="round" stroke-linecap="round" />
<path d="M120.0,162.0C120.7,163.0 123.5,166.2 124.0,168.0C124.5,169.8 123.2,172.2 123.0,173.0" fill="none" stroke="#4a4a4a" stroke-width="0.9" stroke-linejoin="round" stroke-linecap="round" />
<path d="M234.0,203.0C234.7,202.3 236.5,199.8 238.0,199.0C239.5,198.2 242.2,198.2 243.0,198.0" fill="none" stroke="#4a4a4a" stroke-width="0.9" stroke-linejoin="round" stroke-linecap="round" />
<path d="M252.0,205.0C252.7,205.5 255.1,208.5 256.0,208.0C256.9,207.5 257.3,203.0 257.6,202.0" fill="none" stroke="#4a4a4a" stroke-width="0.9" stroke-linejoin="round" stroke-linecap="round" />
<path d="M236.0,230.0C236.7,230.5 239.3,232.5 240.0,233.0" fill="none" stroke="#4a4a4a" stroke-width="0.9" stroke-linejoin="round" stroke-linecap="round" />
<path d="M143.8,209.0C143.1,206.4 144.3,202.4 145.6,199.4C146.9,196.4 148.8,193.5 151.5,191.2C154.2,188.8 157.9,186.9 162.0,185.3C166.1,183.7 171.3,182.7 176.2,181.8C181.1,180.9 186.6,180.1 191.5,180.0C196.4,179.9 201.3,180.1 205.7,181.2C210.1,182.3 213.9,184.0 218.0,186.5C222.1,189.0 226.5,192.9 230.4,196.0C234.3,199.1 238.7,202.0 241.5,205.0C244.3,208.0 246.6,211.1 247.4,213.8C248.2,216.5 247.6,219.3 246.6,221.0C245.6,222.7 243.6,223.7 241.5,224.0C239.4,224.3 236.2,224.0 234.0,222.6C231.8,221.2 229.9,217.7 228.0,215.3C226.1,212.9 224.9,210.9 222.4,208.0C219.9,205.1 216.6,200.2 213.0,198.0C209.4,195.8 205.4,195.2 201.0,194.7C196.6,194.1 191.1,194.1 186.8,194.7C182.5,195.3 178.0,196.8 175.0,198.3C172.0,199.9 169.8,202.2 168.6,204.0C167.3,205.8 167.1,206.8 167.5,208.8C167.9,210.8 168.9,213.8 171.0,216.0C173.1,218.2 178.3,220.0 180.0,222.0C181.7,224.0 181.2,227.7 181.0,228.0C180.8,228.3 180.5,224.6 179.0,224.0C177.5,223.4 174.2,224.4 171.8,224.6C169.4,224.8 167.0,225.9 164.5,225.3C162.0,224.7 159.4,222.7 157.0,221.0C154.6,219.3 152.0,217.0 149.8,215.0C147.6,213.0 144.5,211.6 143.8,209.0Z" fill="#c9c9c9" stroke="#4a4a4a" stroke-width="1.0" stroke-linejoin="round" stroke-linecap="round" />
<path d="M167.5,208.8C167.1,206.8 167.3,205.8 168.6,204.0C169.8,202.2 172.0,199.9 175.0,198.3C178.0,196.8 182.5,195.3 186.8,194.7C191.1,194.1 196.6,194.1 201.0,194.7C205.4,195.2 209.8,196.3 213.0,198.0C216.2,199.7 217.8,202.3 220.0,205.0C222.2,207.7 225.7,211.2 226.0,214.0C226.3,216.8 223.5,219.7 222.0,222.0C220.5,224.3 218.3,226.0 217.0,228.0C215.7,230.0 214.5,231.8 214.0,234.0C213.5,236.2 213.5,238.6 214.0,241.0C214.5,243.4 215.8,245.5 217.0,248.5C218.2,251.5 219.8,255.4 221.0,259.0C222.2,262.6 225.2,268.2 224.0,270.0C222.8,271.8 218.0,271.3 214.0,270.0C210.0,268.7 204.0,264.7 200.0,262.0C196.0,259.3 192.7,255.4 190.0,254.0C187.3,252.6 186.3,253.8 184.0,253.5C181.7,253.2 178.1,252.9 176.0,252.5C173.9,252.1 172.4,251.6 171.5,251.0C170.6,250.4 169.4,250.1 170.4,248.8C171.4,247.5 175.9,245.5 177.7,243.0C179.5,240.5 180.8,236.5 181.4,234.0C182.0,231.5 181.2,230.0 181.0,228.0C180.8,226.0 181.7,224.0 180.0,222.0C178.3,220.0 173.1,218.2 171.0,216.0C168.9,213.8 167.9,210.8 167.5,208.8Z" fill="#d3d3d3" stroke="#4a4a4a" stroke-width="1.0" stroke-linejoin="round" stroke-linecap="round" />
<path d="M188.5,211.0C188.3,210.0 188.8,208.6 190.0,207.5C191.2,206.4 193.3,205.4 196.0,204.5C198.7,203.6 202.7,202.5 206.0,202.3C209.3,202.1 213.3,202.7 216.0,203.5C218.7,204.3 221.5,206.1 222.0,207.0C222.5,207.9 220.3,208.9 219.0,209.0C217.7,209.1 216.2,208.0 214.0,207.8C211.8,207.6 208.8,207.2 206.0,207.6C203.2,208.0 199.5,209.5 197.0,210.5C194.5,211.5 192.4,213.4 191.0,213.5C189.6,213.6 188.7,212.0 188.5,211.0Z" fill="#d9d9d9" stroke="#4a4a4a" stroke-width="1.0" stroke-linejoin="round" stroke-linecap="round" />
<ellipse cx="206" cy="219.5" rx="5.6" ry="4.4" fill="#d9d9d9" stroke="#4a4a4a" stroke-width="1"/>
<path d="M217.0,229.0C218.2,227.8 220.3,227.0 222.0,227.0C223.7,227.0 226.2,227.5 227.0,229.0C227.8,230.5 227.5,233.5 227.0,236.0C226.5,238.5 224.3,241.3 224.0,244.0C223.7,246.7 225.2,250.0 225.0,252.0C224.8,254.0 224.0,256.3 223.0,256.0C222.0,255.7 220.3,252.5 219.0,250.0C217.7,247.5 215.8,243.7 215.0,241.0C214.2,238.3 214.2,236.0 214.5,234.0C214.8,232.0 215.8,230.2 217.0,229.0Z" fill="#ebebeb" stroke="#4a4a4a" stroke-width="0.9" stroke-linejoin="round" stroke-linecap="round" />
<path d="M227.0,229.0C227.7,228.5 229.7,226.2 231.0,226.0C232.3,225.8 233.8,228.2 235.0,228.0C236.2,227.8 237.5,225.5 238.0,225.0" fill="none" stroke="#4a4a4a" stroke-width="1.1" stroke-linejoin="round" stroke-linecap="round" />
<path d="M222.0,246.0C223.6,242.3 226.3,244.0 227.6,243.0C228.9,242.0 228.7,240.8 230.0,240.0C231.3,239.2 232.9,239.1 235.4,238.5C237.9,237.9 241.8,236.1 244.9,236.3C248.1,236.5 251.7,238.3 254.3,239.5C256.9,240.7 258.4,242.0 260.5,243.5C262.6,245.0 264.5,246.3 266.9,248.4C269.3,250.5 272.7,253.4 274.7,256.3C276.7,259.2 278.2,262.6 278.7,265.7C279.2,268.8 278.8,272.3 277.9,275.2C277.0,278.1 275.3,280.8 273.2,283.0C271.1,285.2 268.4,287.0 265.3,288.5C262.2,290.0 258.0,291.2 254.3,291.9C250.6,292.6 246.7,293.0 243.3,292.6C239.9,292.2 236.5,291.1 233.9,289.5C231.3,287.9 230.0,284.6 228.0,283.0C226.0,281.4 223.7,283.0 222.0,280.0C220.3,277.0 218.0,270.7 218.0,265.0C218.0,259.3 220.4,249.7 222.0,246.0Z" fill="#ebebeb" stroke="#4a4a4a" stroke-width="1.0" stroke-linejoin="round" stroke-linecap="round" />
<path d="M221.0,254.0C221.7,251.5 224.2,256.0 226.0,257.0C227.8,258.0 229.7,259.4 232.0,260.0C234.3,260.6 238.1,261.0 240.0,260.5C241.9,260.0 242.5,258.3 243.5,257.0C244.5,255.7 245.3,252.4 246.0,252.5C246.7,252.6 246.4,256.5 247.6,257.5C248.8,258.5 252.7,257.8 253.0,258.5C253.3,259.2 249.7,260.6 249.5,262.0C249.3,263.4 252.4,266.4 252.0,267.0C251.6,267.6 248.4,265.2 247.0,265.5C245.6,265.8 244.2,269.2 243.5,269.0C242.8,268.8 244.2,265.2 243.0,264.5C241.8,263.8 238.2,264.1 236.0,265.0C233.8,265.9 231.5,267.7 230.0,270.0C228.5,272.3 228.0,276.8 227.0,279.0C226.0,281.2 224.8,284.2 224.0,283.0C223.2,281.8 222.5,276.8 222.0,272.0C221.5,267.2 220.3,256.5 221.0,254.0Z" fill="#c9c9c9" stroke="#4a4a4a" stroke-width="0.7" stroke-linejoin="round" stroke-linecap="round" />
<path d="M235.4,239.0C235.3,239.5 234.7,241.0 234.8,241.9C235.0,242.8 235.6,243.7 236.2,244.5C236.8,245.3 237.9,245.9 238.3,246.8C238.7,247.8 238.6,248.9 238.6,250.0C238.6,251.1 237.9,252.4 238.2,253.5C238.5,254.5 239.9,255.8 240.2,256.3" fill="none" stroke="#4a4a4a" stroke-width="0.95" stroke-linejoin="round" stroke-linecap="round" />
<path d="M235.7,241.1C236.0,241.2 236.7,241.4 237.2,241.6C237.7,241.9 238.3,242.5 238.5,242.7" fill="none" stroke="#4a4a4a" stroke-width="0.8" stroke-linejoin="round" stroke-linecap="round" />
<path d="M235.7,241.1C235.5,241.3 235.1,241.6 234.7,242.0C234.3,242.4 233.5,243.3 233.2,243.5" fill="none" stroke="#4a4a4a" stroke-width="0.8" stroke-linejoin="round" stroke-linecap="round" />
<path d="M236.4,245.0C236.6,245.1 237.4,245.4 237.7,245.5C238.0,245.6 238.4,245.6 238.5,245.6" fill="none" stroke="#4a4a4a" stroke-width="0.8" stroke-linejoin="round" stroke-linecap="round" />
<path d="M236.4,245.0C236.4,245.3 236.4,246.2 236.2,246.8C236.0,247.3 235.4,248.0 235.2,248.3" fill="none" stroke="#4a4a4a" stroke-width="0.8" stroke-linejoin="round" stroke-linecap="round" />
<path d="M238.0,248.7C238.1,248.7 238.2,248.8 238.6,248.8C238.9,248.9 239.6,249.0 239.9,249.0" fill="none" stroke="#4a4a4a" stroke-width="0.8" stroke-linejoin="round" stroke-linecap="round" />
<path d="M238.0,248.7C237.9,248.8 237.6,248.9 237.5,249.2C237.4,249.5 237.4,250.2 237.3,250.4" fill="none" stroke="#4a4a4a" stroke-width="0.8" stroke-linejoin="round" stroke-linecap="round" />
<path d="M239.1,252.1C239.3,252.2 240.0,252.3 240.2,252.5C240.5,252.6 240.7,252.7 240.8,252.8" fill="none" stroke="#4a4a4a" stroke-width="0.8" stroke-linejoin="round" stroke-linecap="round" />
<path d="M239.1,252.1C239.0,252.2 238.8,252.5 238.6,252.7C238.4,253.0 238.0,253.3 237.9,253.4" fill="none" stroke="#4a4a4a" stroke-width="0.8" stroke-linejoin="round" stroke-linecap="round" />
<path d="M247.2,237.0C247.0,237.5 246.1,239.1 245.9,240.2C245.8,241.4 246.0,242.5 246.4,243.7C246.8,244.9 248.0,246.2 248.1,247.5C248.2,248.8 247.7,250.4 247.2,251.6C246.7,252.8 245.4,253.4 245.2,254.4C244.9,255.5 245.6,257.3 245.7,257.9" fill="none" stroke="#4a4a4a" stroke-width="0.95" stroke-linejoin="round" stroke-linecap="round" />
<path d="M246.9,239.5C247.1,239.7 247.7,240.0 248.2,240.3C248.7,240.6 249.6,241.3 249.8,241.5" fill="none" stroke="#4a4a4a" stroke-width="0.8" stroke-linejoin="round" stroke-linecap="round" />
<path d="M246.9,239.5C246.8,239.6 246.4,239.9 246.1,240.1C245.7,240.4 245.1,240.8 244.8,240.9" fill="none" stroke="#4a4a4a" stroke-width="0.8" stroke-linejoin="round" stroke-linecap="round" />
<path d="M246.4,244.1C246.7,244.3 247.6,244.7 248.0,244.9C248.4,245.1 248.7,245.1 248.8,245.1" fill="none" stroke="#4a4a4a" stroke-width="0.8" stroke-linejoin="round" stroke-linecap="round" />
<path d="M246.4,244.1C246.4,244.3 246.3,244.7 246.1,245.0C245.8,245.3 245.2,245.8 245.0,246.0" fill="none" stroke="#4a4a4a" stroke-width="0.8" stroke-linejoin="round" stroke-linecap="round" />
<path d="M246.9,248.8C247.0,248.9 247.3,249.1 247.6,249.2C247.9,249.3 248.7,249.4 248.9,249.5" fill="none" stroke="#4a4a4a" stroke-width="0.8" stroke-linejoin="round" stroke-linecap="round" />
<path d="M246.9,248.8C246.7,248.9 246.0,249.0 245.8,249.2C245.5,249.4 245.4,249.8 245.3,249.9" fill="none" stroke="#4a4a4a" stroke-width="0.8" stroke-linejoin="round" stroke-linecap="round" />
<path d="M246.9,253.0C247.0,253.0 247.1,253.2 247.4,253.4C247.7,253.6 248.3,254.1 248.5,254.3" fill="none" stroke="#4a4a4a" stroke-width="0.8" stroke-linejoin="round" stroke-linecap="round" />
<path d="M246.9,253.0C246.8,253.0 246.7,252.9 246.5,253.1C246.3,253.2 245.8,253.6 245.7,253.7" fill="none" stroke="#4a4a4a" stroke-width="0.8" stroke-linejoin="round" stroke-linecap="round" />
<path d="M257.5,241.8C257.1,242.3 255.5,243.5 255.0,244.6C254.4,245.7 254.5,247.3 254.3,248.4C254.1,249.5 254.4,250.4 254.0,251.2C253.6,252.0 252.6,252.5 251.9,253.2C251.2,253.9 250.2,254.6 249.6,255.6C249.1,256.5 248.9,258.2 248.8,258.7" fill="none" stroke="#4a4a4a" stroke-width="0.95" stroke-linejoin="round" stroke-linecap="round" />
<path d="M256.5,243.9C256.6,244.0 257.1,244.3 257.3,244.6C257.6,245.0 257.8,245.8 257.9,246.0" fill="none" stroke="#4a4a4a" stroke-width="0.8" stroke-linejoin="round" stroke-linecap="round" />
<path d="M256.5,243.9C256.3,244.0 255.4,244.4 255.0,244.5C254.6,244.6 254.0,244.4 253.9,244.4" fill="none" stroke="#4a4a4a" stroke-width="0.8" stroke-linejoin="round" stroke-linecap="round" />
<path d="M254.7,247.6C254.8,247.7 255.5,248.1 255.7,248.4C255.9,248.7 256.0,249.4 256.1,249.6" fill="none" stroke="#4a4a4a" stroke-width="0.8" stroke-linejoin="round" stroke-linecap="round" />
<path d="M254.7,247.6C254.4,247.6 253.7,247.5 253.2,247.6C252.7,247.8 251.8,248.2 251.5,248.3" fill="none" stroke="#4a4a4a" stroke-width="0.8" stroke-linejoin="round" stroke-linecap="round" />
<path d="M252.8,251.4C252.9,251.5 253.0,252.1 253.2,252.3C253.4,252.6 253.9,252.8 254.0,252.9" fill="none" stroke="#4a4a4a" stroke-width="0.8" stroke-linejoin="round" stroke-linecap="round" />
<path d="M252.8,251.4C252.6,251.3 251.8,251.2 251.5,251.3C251.2,251.3 251.0,251.7 250.8,251.8" fill="none" stroke="#4a4a4a" stroke-width="0.8" stroke-linejoin="round" stroke-linecap="round" />
<path d="M251.0,254.7C251.1,254.8 251.4,255.1 251.5,255.3C251.6,255.6 251.7,256.0 251.8,256.2" fill="none" stroke="#4a4a4a" stroke-width="0.8" stroke-linejoin="round" stroke-linecap="round" />
<path d="M251.0,254.7C250.8,254.8 250.3,254.9 249.9,254.9C249.5,255.0 248.9,255.0 248.8,255.0" fill="none" stroke="#4a4a4a" stroke-width="0.8" stroke-linejoin="round" stroke-linecap="round" />
<path d="M267.5,249.2C266.9,249.5 264.9,250.2 264.0,251.1C263.1,252.0 262.9,253.7 262.2,254.7C261.5,255.7 260.5,256.7 259.5,257.4C258.4,258.1 256.9,258.4 255.9,258.7C254.9,259.0 254.0,258.8 253.2,259.1C252.4,259.5 251.5,260.7 251.2,261.0" fill="none" stroke="#4a4a4a" stroke-width="0.95" stroke-linejoin="round" stroke-linecap="round" />
<path d="M265.8,251.0C265.9,251.2 266.0,251.9 266.2,252.5C266.5,253.1 266.9,254.1 267.1,254.5" fill="none" stroke="#4a4a4a" stroke-width="0.8" stroke-linejoin="round" stroke-linecap="round" />
<path d="M265.8,251.0C265.4,250.9 264.3,251.0 263.6,250.8C263.0,250.7 262.3,250.1 262.0,250.0" fill="none" stroke="#4a4a4a" stroke-width="0.8" stroke-linejoin="round" stroke-linecap="round" />
<path d="M262.7,254.2C262.8,254.4 263.0,254.8 263.1,255.2C263.3,255.7 263.6,256.6 263.7,256.9" fill="none" stroke="#4a4a4a" stroke-width="0.8" stroke-linejoin="round" stroke-linecap="round" />
<path d="M262.7,254.2C262.4,254.2 261.4,254.4 260.8,254.4C260.2,254.4 259.5,254.3 259.3,254.3" fill="none" stroke="#4a4a4a" stroke-width="0.8" stroke-linejoin="round" stroke-linecap="round" />
<path d="M259.0,256.7C259.0,256.9 259.0,257.4 258.9,257.9C258.8,258.3 258.7,259.1 258.6,259.3" fill="none" stroke="#4a4a4a" stroke-width="0.8" stroke-linejoin="round" stroke-linecap="round" />
<path d="M259.0,256.7C258.8,256.6 257.9,256.3 257.5,256.2C257.1,256.1 256.7,256.1 256.6,256.1" fill="none" stroke="#4a4a4a" stroke-width="0.8" stroke-linejoin="round" stroke-linecap="round" />
<path d="M255.6,258.9C255.6,259.0 255.6,259.4 255.5,259.8C255.5,260.1 255.3,260.8 255.3,261.0" fill="none" stroke="#4a4a4a" stroke-width="0.8" stroke-linejoin="round" stroke-linecap="round" />
<path d="M255.6,258.9C255.4,258.7 254.8,258.4 254.6,258.2C254.4,258.0 254.4,257.9 254.4,257.9" fill="none" stroke="#4a4a4a" stroke-width="0.8" stroke-linejoin="round" stroke-linecap="round" />
<path d="M278.0,264.2C277.3,264.0 275.4,263.0 274.1,262.8C272.8,262.7 271.5,263.2 270.0,263.4C268.5,263.6 266.9,264.1 265.3,264.1C263.7,264.1 262.0,263.7 260.6,263.4C259.2,263.1 258.0,262.4 256.7,262.3C255.4,262.3 253.4,262.8 252.7,262.9" fill="none" stroke="#4a4a4a" stroke-width="0.95" stroke-linejoin="round" stroke-linecap="round" />
<path d="M275.0,263.9C274.7,264.1 273.9,264.6 273.5,265.0C273.1,265.4 272.8,266.1 272.7,266.3" fill="none" stroke="#4a4a4a" stroke-width="0.8" stroke-linejoin="round" stroke-linecap="round" />
<path d="M275.0,263.9C274.9,263.6 274.6,262.8 274.4,262.2C274.1,261.5 273.7,260.5 273.5,260.1" fill="none" stroke="#4a4a4a" stroke-width="0.8" stroke-linejoin="round" stroke-linecap="round" />
<path d="M269.4,263.4C269.3,263.5 268.6,263.6 268.4,263.9C268.2,264.2 268.2,265.0 268.2,265.2" fill="none" stroke="#4a4a4a" stroke-width="0.8" stroke-linejoin="round" stroke-linecap="round" />
<path d="M269.4,263.4C269.4,263.1 269.3,262.1 269.1,261.7C268.9,261.2 268.3,260.8 268.1,260.7" fill="none" stroke="#4a4a4a" stroke-width="0.8" stroke-linejoin="round" stroke-linecap="round" />
<path d="M263.8,263.4C263.8,263.5 263.6,263.9 263.4,264.2C263.2,264.5 262.8,265.1 262.6,265.3" fill="none" stroke="#4a4a4a" stroke-width="0.8" stroke-linejoin="round" stroke-linecap="round" />
<path d="M263.8,263.4C263.8,263.3 263.6,263.1 263.5,262.8C263.4,262.5 263.2,262.0 263.1,261.8" fill="none" stroke="#4a4a4a" stroke-width="0.8" stroke-linejoin="round" stroke-linecap="round" />
<path d="M258.8,263.3C258.7,263.5 258.6,264.1 258.4,264.4C258.2,264.7 257.8,265.0 257.7,265.1" fill="none" stroke="#4a4a4a" stroke-width="0.8" stroke-linejoin="round" stroke-linecap="round" />
<path d="M258.8,263.3C258.7,263.2 258.7,263.1 258.6,262.8C258.5,262.6 258.2,261.9 258.1,261.7" fill="none" stroke="#4a4a4a" stroke-width="0.8" stroke-linejoin="round" stroke-linecap="round" />
<path d="M277.1,275.8C276.5,275.2 274.8,273.2 273.4,272.4C271.9,271.7 270.0,271.6 268.5,271.2C267.0,270.8 265.4,270.8 264.1,270.1C262.8,269.5 261.8,268.2 260.6,267.3C259.4,266.4 258.4,265.3 257.0,264.8C255.7,264.3 253.4,264.5 252.7,264.5" fill="none" stroke="#4a4a4a" stroke-width="0.95" stroke-linejoin="round" stroke-linecap="round" />
<path d="M274.2,274.3C274.0,274.4 273.4,274.8 273.0,275.1C272.5,275.4 271.8,276.0 271.5,276.2" fill="none" stroke="#4a4a4a" stroke-width="0.8" stroke-linejoin="round" stroke-linecap="round" />
<path d="M274.2,274.3C274.2,274.0 273.8,273.3 273.7,272.7C273.7,272.1 273.9,271.2 273.9,270.9" fill="none" stroke="#4a4a4a" stroke-width="0.8" stroke-linejoin="round" stroke-linecap="round" />
<path d="M269.0,271.5C268.8,271.6 268.3,272.1 267.9,272.4C267.5,272.7 266.7,273.3 266.4,273.5" fill="none" stroke="#4a4a4a" stroke-width="0.8" stroke-linejoin="round" stroke-linecap="round" />
<path d="M269.0,271.5C269.0,271.3 268.9,270.8 268.9,270.3C268.9,269.8 268.9,268.9 268.9,268.6" fill="none" stroke="#4a4a4a" stroke-width="0.8" stroke-linejoin="round" stroke-linecap="round" />
<path d="M263.7,268.8C263.4,268.9 262.5,269.2 262.1,269.3C261.7,269.5 261.4,269.6 261.3,269.7" fill="none" stroke="#4a4a4a" stroke-width="0.8" stroke-linejoin="round" stroke-linecap="round" />
<path d="M263.7,268.8C263.7,268.7 263.8,268.2 263.7,267.9C263.7,267.6 263.4,267.1 263.4,266.9" fill="none" stroke="#4a4a4a" stroke-width="0.8" stroke-linejoin="round" stroke-linecap="round" />
<path d="M258.8,266.7C258.6,266.7 258.0,266.7 257.7,267.0C257.4,267.2 257.1,267.9 257.0,268.0" fill="none" stroke="#4a4a4a" stroke-width="0.8" stroke-linejoin="round" stroke-linecap="round" />
<path d="M258.8,266.7C258.7,266.5 258.3,265.8 258.2,265.4C258.1,265.1 258.1,264.9 258.1,264.8" fill="none" stroke="#4a4a4a" stroke-width="0.8" stroke-linejoin="round" stroke-linecap="round" />
<path d="M269.6,286.0C269.1,285.2 268.0,282.6 266.8,281.3C265.6,280.0 263.6,279.3 262.2,278.3C260.8,277.3 259.2,276.4 258.2,275.1C257.1,273.8 256.6,271.8 255.9,270.5C255.2,269.2 254.9,268.2 254.0,267.4C253.2,266.6 251.3,266.0 250.8,265.7" fill="none" stroke="#4a4a4a" stroke-width="0.95" stroke-linejoin="round" stroke-linecap="round" />
<path d="M267.3,283.6C267.1,283.6 266.5,283.6 266.0,283.8C265.6,283.9 264.8,284.4 264.5,284.5" fill="none" stroke="#4a4a4a" stroke-width="0.8" stroke-linejoin="round" stroke-linecap="round" />
<path d="M267.3,283.6C267.4,283.3 267.8,282.7 267.9,282.1C268.0,281.5 267.9,280.3 267.9,279.9" fill="none" stroke="#4a4a4a" stroke-width="0.8" stroke-linejoin="round" stroke-linecap="round" />
<path d="M263.1,279.2C262.8,279.2 262.0,279.0 261.5,279.1C261.0,279.1 260.4,279.4 260.2,279.5" fill="none" stroke="#4a4a4a" stroke-width="0.8" stroke-linejoin="round" stroke-linecap="round" />
<path d="M263.1,279.2C263.2,279.0 263.5,278.3 263.6,277.8C263.7,277.3 263.7,276.3 263.7,276.0" fill="none" stroke="#4a4a4a" stroke-width="0.8" stroke-linejoin="round" stroke-linecap="round" />
<path d="M259.2,274.5C259.0,274.6 258.2,274.7 257.9,274.7C257.6,274.8 257.3,275.0 257.2,275.0" fill="none" stroke="#4a4a4a" stroke-width="0.8" stroke-linejoin="round" stroke-linecap="round" />
<path d="M259.2,274.5C259.2,274.4 259.2,274.0 259.3,273.7C259.3,273.4 259.5,272.8 259.5,272.6" fill="none" stroke="#4a4a4a" stroke-width="0.8" stroke-linejoin="round" stroke-linecap="round" />
<path d="M255.6,270.3C255.6,270.3 255.4,270.8 255.1,270.8C254.8,270.9 254.2,270.6 254.0,270.6" fill="none" stroke="#4a4a4a" stroke-width="0.8" stroke-linejoin="round" stroke-linecap="round" />
<path d="M255.6,270.3C255.6,270.2 255.3,270.1 255.4,269.8C255.4,269.6 255.7,269.0 255.8,268.8" fill="none" stroke="#4a4a4a" stroke-width="0.8" stroke-linejoin="round" stroke-linecap="round" />
<path d="M256.9,291.3C256.7,290.6 256.4,288.3 255.9,286.9C255.3,285.5 254.3,284.4 253.5,283.0C252.7,281.6 251.4,280.2 250.9,278.7C250.4,277.1 250.5,275.1 250.4,273.6C250.3,272.1 250.7,270.9 250.3,269.8C250.0,268.6 248.6,267.0 248.3,266.5" fill="none" stroke="#4a4a4a" stroke-width="0.95" stroke-linejoin="round" stroke-linecap="round" />
<path d="M255.7,288.4C255.3,288.2 254.1,287.7 253.6,287.5C253.0,287.3 252.4,287.3 252.2,287.3" fill="none" stroke="#4a4a4a" stroke-width="0.8" stroke-linejoin="round" stroke-linecap="round" />
<path d="M255.7,288.4C255.9,288.2 256.4,287.5 256.6,287.2C256.8,286.8 256.9,286.5 256.9,286.3" fill="none" stroke="#4a4a4a" stroke-width="0.8" stroke-linejoin="round" stroke-linecap="round" />
<path d="M253.5,283.0C253.4,283.0 253.0,282.7 252.7,282.6C252.3,282.5 251.8,282.3 251.6,282.3" fill="none" stroke="#4a4a4a" stroke-width="0.8" stroke-linejoin="round" stroke-linecap="round" />
<path d="M253.5,283.0C253.7,282.9 254.3,282.6 254.6,282.2C254.9,281.8 255.1,280.9 255.2,280.6" fill="none" stroke="#4a4a4a" stroke-width="0.8" stroke-linejoin="round" stroke-linecap="round" />
<path d="M251.7,277.5C251.5,277.5 251.1,277.1 250.8,277.1C250.4,277.0 250.0,277.1 249.8,277.1" fill="none" stroke="#4a4a4a" stroke-width="0.8" stroke-linejoin="round" stroke-linecap="round" />
<path d="M251.7,277.5C251.8,277.3 252.2,276.6 252.3,276.3C252.5,275.9 252.6,275.6 252.6,275.5" fill="none" stroke="#4a4a4a" stroke-width="0.8" stroke-linejoin="round" stroke-linecap="round" />
<path d="M250.1,272.5C250.0,272.5 249.7,272.3 249.5,272.2C249.2,272.1 248.7,271.9 248.5,271.8" fill="none" stroke="#4a4a4a" stroke-width="0.8" stroke-linejoin="round" stroke-linecap="round" />
<path d="M250.1,272.5C250.2,272.5 250.5,272.2 250.7,272.0C250.9,271.7 251.3,271.1 251.5,270.9" fill="none" stroke="#4a4a4a" stroke-width="0.8" stroke-linejoin="round" stroke-linecap="round" />
<path d="M244.9,292.6C245.1,291.8 246.0,289.4 246.0,287.8C245.9,286.2 244.9,284.6 244.6,283.0C244.3,281.4 244.0,279.8 244.1,278.3C244.2,276.7 244.7,274.9 245.2,273.6C245.7,272.3 246.7,271.4 246.9,270.2C247.0,269.0 246.2,267.1 246.1,266.5" fill="none" stroke="#4a4a4a" stroke-width="0.95" stroke-linejoin="round" stroke-linecap="round" />
<path d="M244.8,289.5C244.6,289.4 244.0,289.1 243.6,288.9C243.3,288.7 242.7,288.3 242.6,288.2" fill="none" stroke="#4a4a4a" stroke-width="0.8" stroke-linejoin="round" stroke-linecap="round" />
<path d="M244.8,289.5C245.0,289.4 245.7,289.3 246.2,289.1C246.6,288.8 247.2,288.2 247.4,288.1" fill="none" stroke="#4a4a4a" stroke-width="0.8" stroke-linejoin="round" stroke-linecap="round" />
<path d="M244.6,283.7C244.4,283.6 243.6,283.3 243.1,283.1C242.6,282.8 241.9,282.3 241.6,282.2" fill="none" stroke="#4a4a4a" stroke-width="0.8" stroke-linejoin="round" stroke-linecap="round" />
<path d="M244.6,283.7C244.8,283.5 245.6,283.1 246.0,282.8C246.3,282.4 246.7,281.8 246.8,281.6" fill="none" stroke="#4a4a4a" stroke-width="0.8" stroke-linejoin="round" stroke-linecap="round" />
<path d="M244.9,278.0C244.8,277.9 244.7,278.0 244.4,277.8C244.2,277.6 243.5,277.0 243.3,276.9" fill="none" stroke="#4a4a4a" stroke-width="0.8" stroke-linejoin="round" stroke-linecap="round" />
<path d="M244.9,278.0C245.1,277.9 245.9,277.5 246.2,277.4C246.6,277.3 246.9,277.2 247.1,277.1" fill="none" stroke="#4a4a4a" stroke-width="0.8" stroke-linejoin="round" stroke-linecap="round" />
<path d="M245.3,272.7C245.1,272.6 244.6,272.0 244.3,271.8C244.0,271.6 243.6,271.6 243.5,271.5" fill="none" stroke="#4a4a4a" stroke-width="0.8" stroke-linejoin="round" stroke-linecap="round" />
<path d="M245.3,272.7C245.5,272.7 246.1,272.4 246.4,272.3C246.6,272.1 246.9,271.9 247.0,271.8" fill="none" stroke="#4a4a4a" stroke-width="0.8" stroke-linejoin="round" stroke-linecap="round" />
<path d="M234.5,289.5C234.8,288.9 236.0,287.0 236.4,285.7C236.9,284.4 236.8,282.9 237.0,281.5C237.2,280.1 237.0,278.4 237.5,277.1C238.0,275.8 239.4,274.7 240.2,273.6C241.0,272.5 241.9,271.5 242.4,270.3C242.9,269.2 243.2,267.1 243.3,266.5" fill="none" stroke="#4a4a4a" stroke-width="0.95" stroke-linejoin="round" stroke-linecap="round" />
<path d="M235.4,286.7C235.2,286.6 234.6,286.3 234.3,286.0C234.0,285.6 233.7,285.0 233.6,284.8" fill="none" stroke="#4a4a4a" stroke-width="0.8" stroke-linejoin="round" stroke-linecap="round" />
<path d="M235.4,286.7C235.6,286.6 236.2,286.5 236.6,286.3C236.9,286.1 237.5,285.6 237.7,285.5" fill="none" stroke="#4a4a4a" stroke-width="0.8" stroke-linejoin="round" stroke-linecap="round" />
<path d="M237.0,281.5C236.9,281.3 236.7,280.7 236.4,280.3C236.1,280.0 235.3,279.4 235.1,279.2" fill="none" stroke="#4a4a4a" stroke-width="0.8" stroke-linejoin="round" stroke-linecap="round" />
<path d="M237.0,281.5C237.1,281.5 237.5,281.5 237.8,281.5C238.2,281.4 238.9,281.4 239.1,281.4" fill="none" stroke="#4a4a4a" stroke-width="0.8" stroke-linejoin="round" stroke-linecap="round" />
<path d="M239.0,276.5C239.0,276.3 238.8,275.7 238.6,275.4C238.4,275.0 238.0,274.4 237.9,274.2" fill="none" stroke="#4a4a4a" stroke-width="0.8" stroke-linejoin="round" stroke-linecap="round" />
<path d="M239.0,276.5C239.2,276.4 239.7,276.3 240.1,276.3C240.4,276.2 241.2,276.2 241.4,276.2" fill="none" stroke="#4a4a4a" stroke-width="0.8" stroke-linejoin="round" stroke-linecap="round" />
<path d="M240.9,271.9C240.8,271.8 240.2,271.6 240.0,271.3C239.8,271.0 239.6,270.4 239.5,270.2" fill="none" stroke="#4a4a4a" stroke-width="0.8" stroke-linejoin="round" stroke-linecap="round" />
<path d="M240.9,271.9C241.1,271.9 241.6,271.7 241.9,271.7C242.2,271.7 242.7,271.8 242.8,271.9" fill="none" stroke="#4a4a4a" stroke-width="0.8" stroke-linejoin="round" stroke-linecap="round" />
<path d="M229.5,278.5C230.0,278.2 231.7,277.5 232.5,276.7C233.2,275.9 233.4,274.6 233.9,273.6C234.4,272.6 234.8,271.3 235.5,270.5C236.3,269.8 237.6,269.4 238.6,268.9C239.6,268.4 240.7,268.4 241.3,267.7C242.0,267.1 242.3,265.5 242.5,265.0" fill="none" stroke="#4a4a4a" stroke-width="0.95" stroke-linejoin="round" stroke-linecap="round" />
<path d="M231.0,276.8C231.0,276.5 231.0,275.4 231.0,274.7C230.9,274.1 230.9,273.1 230.9,272.8" fill="none" stroke="#4a4a4a" stroke-width="0.8" stroke-linejoin="round" stroke-linecap="round" />
<path d="M231.0,276.8C231.3,276.9 232.1,277.2 232.6,277.4C233.1,277.5 234.0,277.5 234.2,277.6" fill="none" stroke="#4a4a4a" stroke-width="0.8" stroke-linejoin="round" stroke-linecap="round" />
<path d="M233.8,273.8C233.7,273.6 233.6,273.2 233.6,272.7C233.6,272.3 233.6,271.3 233.6,271.0" fill="none" stroke="#4a4a4a" stroke-width="0.8" stroke-linejoin="round" stroke-linecap="round" />
<path d="M233.8,273.8C233.9,273.8 234.5,273.7 234.9,273.8C235.3,273.9 235.9,274.3 236.1,274.4" fill="none" stroke="#4a4a4a" stroke-width="0.8" stroke-linejoin="round" stroke-linecap="round" />
<path d="M236.7,270.8C236.7,270.6 236.9,269.9 236.8,269.5C236.7,269.1 236.4,268.4 236.3,268.2" fill="none" stroke="#4a4a4a" stroke-width="0.8" stroke-linejoin="round" stroke-linecap="round" />
<path d="M236.7,270.8C236.8,270.9 237.4,271.2 237.7,271.3C238.0,271.3 238.4,271.0 238.6,271.0" fill="none" stroke="#4a4a4a" stroke-width="0.8" stroke-linejoin="round" stroke-linecap="round" />
<path d="M239.3,268.2C239.3,268.0 238.9,267.2 238.9,266.9C238.9,266.5 239.2,266.2 239.3,266.1" fill="none" stroke="#4a4a4a" stroke-width="0.8" stroke-linejoin="round" stroke-linecap="round" />
<path d="M239.3,268.2C239.5,268.2 239.9,268.1 240.2,268.1C240.5,268.1 241.2,268.3 241.4,268.3" fill="none" stroke="#4a4a4a" stroke-width="0.8" stroke-linejoin="round" stroke-linecap="round" />
<path d="M241.1,236.8C241.1,237.3 240.9,238.9 241.1,239.8C241.3,240.7 241.9,241.9 242.1,242.3" fill="none" stroke="#4a4a4a" stroke-width="0.9" stroke-linejoin="round" stroke-linecap="round" />
<path d="M252.7,238.2C252.6,238.5 252.3,239.3 252.1,240.0C251.9,240.7 251.6,242.0 251.5,242.4" fill="none" stroke="#4a4a4a" stroke-width="0.9" stroke-linejoin="round" stroke-linecap="round" />
<path d="M263.4,244.7C263.1,244.9 262.3,245.6 261.8,246.2C261.3,246.7 260.4,247.5 260.1,247.8" fill="none" stroke="#4a4a4a" stroke-width="0.9" stroke-linejoin="round" stroke-linecap="round" />
<path d="M273.9,256.5C273.5,256.6 272.2,256.8 271.4,257.0C270.6,257.1 269.5,257.3 269.1,257.4" fill="none" stroke="#4a4a4a" stroke-width="0.9" stroke-linejoin="round" stroke-linecap="round" />
<path d="M274.3,281.6C274.0,281.4 272.8,280.9 272.2,280.5C271.6,280.1 271.0,279.3 270.7,279.1" fill="none" stroke="#4a4a4a" stroke-width="0.9" stroke-linejoin="round" stroke-linecap="round" />
<path d="M263.9,289.7C263.7,289.3 262.9,288.5 262.4,287.7C261.9,287.0 261.1,285.4 260.8,285.0" fill="none" stroke="#4a4a4a" stroke-width="0.9" stroke-linejoin="round" stroke-linecap="round" />
<path d="M251.1,293.1C251.1,292.6 251.2,291.0 251.1,290.1C250.9,289.2 250.3,288.1 250.2,287.7" fill="none" stroke="#4a4a4a" stroke-width="0.9" stroke-linejoin="round" stroke-linecap="round" />
<path d="M239.5,292.2C239.6,291.8 240.2,290.8 240.4,289.8C240.6,288.9 240.6,287.1 240.6,286.5" fill="none" stroke="#4a4a4a" stroke-width="0.9" stroke-linejoin="round" stroke-linecap="round" />
<path d="M231.4,285.0C231.5,284.8 232.0,284.2 232.4,283.5C232.8,282.8 233.6,281.4 233.9,281.0" fill="none" stroke="#4a4a4a" stroke-width="0.9" stroke-linejoin="round" stroke-linecap="round" />
<path d="M196.0,236.0C192.4,237.2 192.0,237.8 190.5,241.0C189.0,244.2 187.4,250.7 187.0,255.0C186.6,259.3 186.8,263.0 188.0,267.0C189.2,271.0 191.8,275.7 194.0,279.0C196.2,282.3 199.3,284.3 201.0,287.0C202.7,289.7 203.4,292.0 204.0,295.0C204.6,298.0 204.3,301.7 204.5,305.0C204.7,308.3 205.3,310.0 205.0,315.0C204.7,320.0 203.3,328.3 202.7,335.0C202.1,341.7 201.6,348.9 201.4,355.0C201.2,361.1 201.4,371.7 201.4,371.7C201.4,371.7 205.8,373.4 208.0,373.6C210.2,373.8 214.7,373.0 214.7,373.0C214.7,373.0 213.3,363.3 213.0,357.8C212.7,352.3 212.1,346.3 212.7,340.0C213.3,333.7 215.3,326.2 216.5,320.0C217.7,313.8 218.6,307.7 220.0,303.0C221.4,298.3 223.4,295.7 225.0,292.0C226.6,288.3 229.3,285.2 229.5,281.0C229.7,276.8 227.2,271.3 226.0,267.0C224.8,262.7 223.5,259.5 222.0,255.0C220.5,250.5 218.7,243.5 217.0,240.0C215.3,236.5 215.5,234.7 212.0,234.0C208.5,233.3 199.6,234.8 196.0,236.0Z" fill="#c9c9c9" stroke="#4a4a4a" stroke-width="1.0" stroke-linejoin="round" stroke-linecap="round" />
<path d="M191.8,238.0C193.4,236.4 196.6,234.6 199.0,234.6C201.4,234.6 204.3,235.7 206.5,238.0C208.7,240.3 210.7,245.0 212.4,248.5C214.1,252.0 215.6,255.7 216.8,258.8C218.0,261.9 219.0,263.0 219.7,267.0C220.4,271.0 221.3,277.5 221.0,283.0C220.7,288.5 219.3,293.8 218.0,300.0C216.7,306.2 214.5,313.3 213.0,320.0C211.5,326.7 209.8,333.8 209.0,340.0C208.2,346.2 208.3,351.4 208.5,357.0C208.7,362.6 210.0,373.3 210.0,373.3C210.0,373.3 201.4,371.7 201.4,371.7C201.4,371.7 201.2,361.1 201.4,355.0C201.6,348.9 202.1,341.7 202.7,335.0C203.3,328.3 204.7,320.0 205.0,315.0C205.3,310.0 204.7,308.3 204.5,305.0C204.3,301.7 204.6,298.0 204.0,295.0C203.4,292.0 202.7,289.7 201.0,287.0C199.3,284.3 196.2,282.3 194.0,279.0C191.8,275.7 189.2,271.0 188.0,267.0C186.8,263.0 186.8,258.8 187.0,255.0C187.2,251.2 188.7,246.8 189.5,244.0C190.3,241.2 190.2,239.6 191.8,238.0Z" fill="#e2e2e2" stroke="#4a4a4a" stroke-width="1.0" stroke-linejoin="round" stroke-linecap="round" />
<path d="M199.0,290.0C199.7,289.5 202.1,286.7 203.0,287.0C203.9,287.3 204.2,291.2 204.5,292.0" fill="none" stroke="#4a4a4a" stroke-width="0.8" stroke-linejoin="round" stroke-linecap="round" />
<path d="M174.0,251.5C174.2,251.9 172.7,253.6 172.5,255.0C172.3,256.4 172.9,258.3 172.8,260.0C172.7,261.7 172.6,263.6 172.0,265.0C171.4,266.4 170.6,267.8 169.5,268.3C168.4,268.9 166.6,268.9 165.5,268.3C164.4,267.8 163.4,266.4 163.0,265.0C162.6,263.6 162.6,261.4 162.8,260.0C163.1,258.6 163.6,257.3 164.5,256.5C165.4,255.7 166.9,255.7 168.0,255.0C169.1,254.3 170.0,253.1 171.0,252.5C172.0,251.9 173.8,251.1 174.0,251.5Z" fill="#c9c9c9" stroke="#4a4a4a" stroke-width="0.9" stroke-linejoin="round" stroke-linecap="round" />
</g>

<polygon points="58.5,58 27.3,81.3 46,109 31,120 82.3,120.2 94,72 78.8,83.3" fill="#ed1c24"/>
<polygon points="473.6,158.0 477.4,154.4 480.9,157.5 480.4,159.4 475.9,160.9" fill="#f29a55" opacity="0.55"/>
<polygon points="480.3,156.8 478.8,160.9 475.7,159.4 476.9,156.4 479.4,155.6" fill="#e64a24"/>
<polygon points="472.3,161.1 475.1,161.1 476.6,163.8 474.5,166.0 471.8,163.9" fill="#f29a55" opacity="0.55"/>
<polygon points="472.1,163.5 473.0,162.1 475.4,161.6 476.3,162.5 477.3,164.9 474.8,165.2 473.1,164.1" fill="#e0361c"/>
<polygon points="467.0,163.0 465.4,161.0 467.1,159.0 469.4,159.6 470.4,162.4 469.1,164.5" fill="#f29a55" opacity="0.55"/>
<polygon points="467.6,160.6 469.4,160.3 470.0,162.8 468.9,163.2 467.2,162.7 466.6,161.7" fill="#ec6c30"/>
<polygon points="462.0,174.6 458.4,171.3 461.9,166.6 464.9,166.3 465.6,169.9" fill="#f29a55" opacity="0.55"/>
<polygon points="461.3,172.4 459.3,169.3 461.1,168.3 462.8,166.6 465.3,167.0 464.3,169.5 463.3,172.2" fill="#e64a24"/>
<polygon points="471.4,169.3 469.6,170.4 466.7,170.2 466.8,168.0 469.0,168.0" fill="#f29a55" opacity="0.55"/>
<polygon points="468.9,168.4 470.7,169.7 470.5,170.4 468.3,170.5 466.7,168.6" fill="#e0361c"/>
<polygon points="457.0,174.0 454.5,174.0 454.1,170.9 458.0,168.0 459.2,171.4" fill="#f29a55" opacity="0.55"/>
<polygon points="453.3,172.2 454.5,169.6 457.4,170.2 458.0,173.1 455.8,175.0" fill="#e64a24"/>
<polygon points="465.3,176.9 465.3,175.3 465.8,173.0 469.2,173.2 469.3,175.4 467.9,178.4" fill="#f29a55" opacity="0.55"/>
<polygon points="467.8,177.4 466.3,176.8 466.3,174.8 467.2,173.7 469.4,174.7" fill="#ec6c30"/>
<polygon points="472.9,176.6 472.2,174.6 471.9,173.6 473.4,172.5 475.0,174.9 475.2,176.0" fill="#f29a55" opacity="0.55"/>
<polygon points="473.6,176.7 471.8,174.7 472.4,173.3 473.1,172.5 474.6,173.8 474.0,176.2" fill="#e0361c"/>
<polygon points="457.6,176.7 460.3,182.9 454.0,181.7 450.4,175.7 455.0,174.2" fill="#f29a55" opacity="0.55"/>
<polygon points="453.9,174.0 457.5,177.6 457.9,180.3 456.2,182.2 454.4,180.9 452.8,180.3 453.5,175.9" fill="#e0361c"/>
<polygon points="442.8,180.4 440.8,177.0 445.3,175.4 449.5,178.3 450.2,179.9" fill="#f29a55" opacity="0.55"/>
<polygon points="450.4,179.4 447.6,179.6 444.2,179.0 442.1,178.0 445.2,176.4 450.0,177.3" fill="#ec6c30"/>
<polygon points="443.3,187.6 441.3,184.0 445.2,180.5 447.8,182.2 447.7,186.8" fill="#f29a55" opacity="0.55"/>
<polygon points="442.8,183.0 443.9,181.5 447.8,182.0 447.7,186.0 446.1,186.7 443.5,186.4" fill="#e64a24"/>
<polygon points="450.5,187.4 449.3,184.0 450.4,183.2 453.0,183.9 455.1,185.5 454.7,186.8 452.1,187.6" fill="#f29a55" opacity="0.55"/>
<polygon points="453.7,184.8 453.1,186.5 452.1,186.9 450.9,185.7 450.4,184.6 451.0,184.0 453.2,183.9" fill="#e0361c"/>
<polygon points="460.5,184.8 460.2,187.6 457.4,186.5 456.1,183.6 459.6,183.7" fill="#f29a55" opacity="0.55"/>
<polygon points="456.9,184.5 458.6,183.7 460.0,185.3 459.0,186.8 458.1,186.5" fill="#ec6c30"/>
<polygon points="447.3,187.9 446.2,191.8 443.4,193.7 441.5,190.3 440.2,187.1 441.2,186.1 443.5,186.1" fill="#f29a55" opacity="0.55"/>
<polygon points="443.0,186.5 445.9,187.8 447.0,191.1 442.9,190.7 441.6,190.7 440.9,186.0" fill="#e0361c"/>
<polygon points="439.1,192.5 436.6,191.7 436.3,188.8 438.5,186.4 441.1,188.0 441.8,191.9" fill="#f29a55" opacity="0.55"/>
<polygon points="440.7,192.5 439.7,192.4 437.0,189.9 436.6,188.8 438.9,187.9 441.3,190.3" fill="#e64a24"/>
<polygon points="447.6,188.4 450.4,190.2 447.3,193.0 445.2,192.7 445.6,189.6" fill="#f29a55" opacity="0.55"/>
<polygon points="446.4,189.4 448.6,189.7 448.4,191.5 446.8,191.9 445.7,190.7" fill="#e0361c"/>
<polygon points="437.2,197.5 436.2,194.6 437.4,192.5 439.4,193.7 441.0,196.4 441.3,198.4 440.6,199.4" fill="#f29a55" opacity="0.55"/>
<polygon points="439.5,193.5 440.3,194.6 441.5,197.4 439.5,198.8 437.6,198.0 436.6,195.5 437.8,194.9" fill="#e0361c"/>
<polygon points="439.7,198.7 437.8,199.4 433.9,198.9 431.5,196.9 431.3,194.2 437.7,197.1" fill="#f29a55" opacity="0.55"/>
<polygon points="437.6,199.5 436.6,199.6 433.3,197.8 431.3,195.4 434.1,195.6 437.1,196.1 439.3,198.7" fill="#e64a24"/>
<polygon points="446.7,194.8 445.9,198.1 444.4,198.7 442.8,196.6 444.6,195.1" fill="#f29a55" opacity="0.55"/>
<polygon points="444.2,195.6 445.3,195.2 446.1,196.2 445.6,198.3 445.0,198.1 443.2,197.1" fill="#ec6c30"/>
<polygon points="448.9,179.3 449.9,179.9 451.3,180.8 451.4,181.9 449.7,182.3 448.9,181.8" fill="#f29a55" opacity="0.55"/>
<polygon points="450.6,181.6 450.1,182.2 449.0,181.3 449.0,180.5 450.2,179.5 451.2,180.1" fill="#ec6c30"/>
<polygon points="460.5,177.9 459.9,176.3 460.6,175.6 462.1,177.0 461.5,178.7" fill="#f29a55" opacity="0.55"/>
<polygon points="460.2,175.9 461.8,176.5 461.7,178.0 460.7,178.4 459.9,176.8" fill="#e64a24"/>
<polygon points="585.3,172.7 586.3,171.5 588.4,168.9 589.8,170.0 591.4,172.3 589.9,174.6 588.7,174.7" fill="#f29a55" opacity="0.55"/>
<polygon points="586.7,174.6 585.8,172.6 586.6,170.0 589.0,170.0 590.2,171.1 589.3,174.1" fill="#e64a24"/>
<polygon points="595.3,175.9 593.8,176.8 592.1,176.1 592.1,174.1 595.0,171.3 596.4,174.0" fill="#f29a55" opacity="0.55"/>
<polygon points="594.9,173.1 595.8,175.3 594.3,176.7 592.2,176.7 591.6,174.3 592.5,172.9" fill="#e64a24"/>
<polygon points="597.5,171.5 599.3,172.8 600.4,172.3 600.3,175.7 598.9,175.7 597.0,176.7 595.8,173.6" fill="#f29a55" opacity="0.55"/>
<polygon points="597.5,175.0 597.0,172.9 599.5,172.3 600.7,173.6 600.1,175.3 599.0,176.4" fill="#ec6c30"/>
<polygon points="591.7,180.0 594.3,180.4 592.0,183.7 590.1,184.7 589.4,181.2" fill="#f29a55" opacity="0.55"/>
<polygon points="593.0,180.0 592.2,183.4 590.5,184.7 589.3,182.6 591.4,180.6" fill="#e64a24"/>
<polygon points="593.2,180.3 594.4,177.8 595.8,177.1 597.3,179.6 597.4,180.1 595.9,182.3 594.0,182.1" fill="#f29a55" opacity="0.55"/>
<polygon points="597.2,179.7 596.6,181.6 594.8,181.4 593.1,180.4 593.6,178.7 595.8,177.4 597.4,178.4" fill="#e0361c"/>
<polygon points="605.4,181.3 602.5,180.9 602.3,180.5 600.6,177.9 604.7,177.1 607.7,178.8 606.4,179.9" fill="#f29a55" opacity="0.55"/>
<polygon points="603.4,177.6 605.8,178.8 605.8,180.1 605.3,181.0 602.6,181.8 601.0,180.4 602.2,178.6" fill="#e0361c"/>
<polygon points="598.2,183.4 598.9,181.7 601.0,181.1 602.5,183.5 601.6,185.5 599.1,185.5" fill="#f29a55" opacity="0.55"/>
<polygon points="598.5,183.4 598.8,181.5 600.4,182.1 602.0,183.9 601.6,185.0 599.7,185.1" fill="#e64a24"/>
<polygon points="609.4,181.9 608.2,183.7 606.9,187.5 603.4,185.3 602.9,184.3 603.0,180.7 605.5,179.9" fill="#f29a55" opacity="0.55"/>
<polygon points="604.8,185.2 603.0,185.1 603.2,182.1 605.6,181.1 606.9,182.2 608.4,183.8 607.1,185.7" fill="#e0361c"/>
<polygon points="600.1,189.6 599.4,190.4 596.1,192.5 594.2,189.4 593.9,186.3 598.4,185.6" fill="#f29a55" opacity="0.55"/>
<polygon points="598.6,187.5 599.3,188.6 599.1,190.4 597.0,191.0 595.3,190.3 595.0,187.6 595.4,187.1" fill="#e0361c"/>
<polygon points="601.3,190.0 601.7,187.8 601.5,186.2 604.6,185.6 604.7,186.9 605.1,188.6 603.1,190.7" fill="#f29a55" opacity="0.55"/>
<polygon points="601.6,187.9 602.2,186.4 604.6,187.8 604.9,189.5 603.2,190.0" fill="#e64a24"/>
<polygon points="612.4,187.9 607.3,190.9 605.9,187.4 606.9,184.7 609.7,185.7" fill="#f29a55" opacity="0.55"/>
<polygon points="607.2,186.7 609.2,185.0 610.5,187.1 611.3,188.9 608.5,189.6 605.9,188.9" fill="#e0361c"/>
<polygon points="616.0,191.2 614.6,195.2 611.6,193.7 608.6,192.0 611.2,188.9 612.8,188.0 616.4,188.7" fill="#f29a55" opacity="0.55"/>
<polygon points="613.7,193.0 610.7,190.3 612.1,186.9 615.5,189.5 615.6,191.7" fill="#e0361c"/>
<polygon points="599.9,200.5 596.3,197.8 594.8,195.7 600.4,194.5 602.4,195.6" fill="#f29a55" opacity="0.55"/>
<polygon points="599.5,199.6 596.6,198.8 596.0,196.3 597.8,195.2 599.9,194.8 601.7,196.1" fill="#e64a24"/>
<polygon points="606.7,200.6 602.5,198.0 600.4,195.2 602.3,192.0 607.2,191.8 609.1,197.1" fill="#f29a55" opacity="0.55"/>
<polygon points="604.4,193.4 607.2,193.8 607.1,197.0 606.6,200.3 602.4,198.6 601.5,194.5" fill="#e0361c"/>
<polygon points="611.5,192.6 614.9,194.7 613.2,198.2 611.0,197.7 608.6,194.9 610.2,193.5" fill="#f29a55" opacity="0.55"/>
<polygon points="609.8,198.0 609.8,196.4 609.1,193.6 610.6,193.7 613.1,194.5 614.0,196.5 612.2,198.1" fill="#e0361c"/>
<polygon points="615.8,192.9 619.9,193.1 619.1,196.2 616.3,198.4 614.0,197.4 613.9,195.0" fill="#f29a55" opacity="0.55"/>
<polygon points="616.6,198.6 613.6,195.2 615.0,192.9 618.2,193.4 618.4,196.8" fill="#e0361c"/>
<polygon points="625.3,198.0 624.2,199.9 620.7,202.0 619.5,200.5 619.1,198.3 620.2,196.7 622.1,195.2" fill="#f29a55" opacity="0.55"/>
<polygon points="621.2,196.4 624.5,198.2 622.7,201.4 619.6,200.7 619.3,198.5" fill="#e0361c"/>
<polygon points="612.0,200.8 613.7,201.7 612.0,203.7 609.6,204.6 607.9,202.9 608.8,199.7" fill="#f29a55" opacity="0.55"/>
<polygon points="610.0,200.7 611.7,199.8 612.3,203.9 610.6,204.3 608.3,202.5" fill="#e0361c"/>
<polygon points="611.0,202.6 614.0,198.9 618.6,199.7 618.6,203.6 616.6,205.1" fill="#f29a55" opacity="0.55"/>
<polygon points="616.3,200.4 617.8,203.0 616.7,206.5 614.2,204.3 613.7,200.3" fill="#d4281c"/>
<polygon points="619.6,203.6 618.9,201.1 623.6,199.9 624.8,200.4 624.7,204.9 622.5,206.2 621.2,205.2" fill="#f29a55" opacity="0.55"/>
<polygon points="625.0,201.7 623.0,206.3 621.3,204.6 619.8,201.9 622.9,200.1" fill="#e0361c"/>
<polygon points="606.7,208.9 604.6,208.5 603.4,208.0 603.5,204.7 606.9,205.3 608.4,207.2" fill="#f29a55" opacity="0.55"/>
<polygon points="608.4,205.8 607.9,208.7 605.4,209.0 604.1,207.5 603.3,205.7" fill="#e64a24"/>
<polygon points="615.2,206.2 614.6,210.1 613.1,211.3 609.4,210.1 608.9,205.6 610.9,206.1" fill="#f29a55" opacity="0.55"/>
<polygon points="612.5,205.1 613.8,206.0 615.7,209.2 612.9,212.5 611.4,212.5 608.0,208.4 609.8,207.7" fill="#d4281c"/>
<polygon points="621.7,209.8 620.2,211.7 615.5,210.2 614.8,207.3 619.3,206.3" fill="#f29a55" opacity="0.55"/>
<polygon points="616.4,209.6 616.2,206.7 618.8,206.6 620.6,209.2 619.3,211.2 618.0,211.0" fill="#d4281c"/>
<polygon points="620.4,208.0 623.4,205.6 627.9,207.5 625.3,210.9 621.3,212.8" fill="#f29a55" opacity="0.55"/>
<polygon points="624.1,211.9 621.4,210.1 621.8,208.0 625.4,207.8 626.0,210.3" fill="#d4281c"/>
<polygon points="612.7,217.8 611.7,214.4 613.5,211.8 614.2,211.8 616.9,211.2 616.6,215.7 615.0,216.9" fill="#f29a55" opacity="0.55"/>
<polygon points="613.3,217.1 612.4,214.7 613.9,212.6 615.4,212.0 616.7,214.0 615.0,215.8" fill="#d4281c"/>
<polygon points="629.0,215.1 626.5,217.3 623.7,215.9 624.2,213.9 628.3,212.4" fill="#f29a55" opacity="0.55"/>
<polygon points="624.5,217.2 624.5,214.9 624.7,214.2 626.6,212.9 627.8,213.7 629.0,215.2 626.0,216.4" fill="#d4281c"/>
<polygon points="618.7,218.3 622.6,217.9 623.2,221.4 619.2,223.4 616.9,220.0" fill="#f29a55" opacity="0.55"/>
<polygon points="623.6,218.7 623.6,222.1 620.2,222.8 617.7,220.7 619.5,216.7" fill="#d4281c"/>
<polygon points="627.1,216.2 629.5,220.3 628.4,225.1 625.6,225.0 623.9,224.1 622.1,221.0 623.0,215.9" fill="#f29a55" opacity="0.55"/>
<polygon points="628.7,222.0 626.8,224.4 622.8,223.7 622.2,219.0 626.6,219.0" fill="#d4281c"/>
<polygon points="627.9,219.6 630.9,221.2 632.5,224.6 627.5,224.6 626.2,223.0" fill="#f29a55" opacity="0.55"/>
<polygon points="627.7,222.5 628.4,221.1 629.8,220.8 632.1,222.5 631.4,224.0 628.7,225.0 627.3,223.9" fill="#d4281c"/>
<polygon points="525.6,244.4 526.5,241.9 528.4,242.7 529.9,244.0 527.6,246.2 526.3,246.3" fill="#f0b090" opacity="0.55"/>
<polygon points="525.4,243.4 527.0,242.2 528.9,242.9 529.0,245.4 527.9,245.9 525.6,244.6" fill="#d4281c"/>
<polygon points="535.3,243.3 535.0,244.3 534.0,244.6 532.7,243.5 533.5,242.6 534.7,242.3" fill="#f0b090" opacity="0.55"/>
<polygon points="533.4,243.8 533.4,242.8 534.3,242.7 535.1,243.4 535.0,243.8 533.6,244.3" fill="#e0361c"/>
<polygon points="539.6,242.9 541.0,242.8 540.7,243.4 540.4,244.1 539.3,243.9 538.7,243.4" fill="#f0b090" opacity="0.55"/>
<polygon points="539.8,244.3 539.2,243.9 539.1,243.0 539.8,242.8 540.4,242.7 540.8,243.3 540.6,244.1" fill="#e0361c"/>
<polygon points="531.1,247.4 530.7,249.3 528.9,248.6 528.2,247.6 529.9,246.8" fill="#f0b090" opacity="0.55"/>
<polygon points="528.7,247.0 530.0,246.9 531.0,247.1 530.8,248.2 529.6,248.5 528.5,248.2" fill="#e0361c"/>
<polygon points="535.8,250.2 534.3,248.8 534.2,247.8 535.5,247.3 537.1,248.1 536.8,249.9" fill="#f0b090" opacity="0.55"/>
<polygon points="535.5,247.4 536.5,247.8 536.5,249.5 534.7,250.1 534.6,247.8" fill="#d4281c"/>
<polygon points="532.7,251.3 533.3,252.5 532.0,253.9 531.0,253.5 530.8,251.3 531.4,251.1" fill="#f0b090" opacity="0.55"/>
<polygon points="532.3,253.2 531.4,252.7 530.8,251.9 531.8,251.4 533.1,251.9" fill="#e0361c"/>
<polygon points="537.1,251.0 538.5,251.5 538.7,252.3 537.5,254.0 536.6,252.5" fill="#f0b090" opacity="0.55"/>
<polygon points="537.9,253.1 536.9,252.8 537.0,251.6 538.6,251.0 538.9,252.0" fill="#e0361c"/>
<polygon points="544.0,248.1 544.4,249.2 544.0,250.4 542.6,249.7 542.5,248.9" fill="#f0b090" opacity="0.55"/>
<polygon points="544.1,249.8 543.8,249.8 543.1,250.0 542.6,249.2 543.1,248.5 543.9,248.8 544.4,249.3" fill="#e64a24"/>
<polygon points="534.7,256.7 533.9,255.0 534.7,253.9 536.0,254.3 536.3,256.2" fill="#f0b090" opacity="0.55"/>
<polygon points="535.6,255.2 534.5,256.4 534.0,255.5 534.7,254.3 535.9,254.6" fill="#e0361c"/>
<polygon points="542.7,255.1 542.8,256.8 540.4,257.8 538.4,256.0 539.1,253.2 541.3,253.5" fill="#f0b090" opacity="0.55"/>
<polygon points="539.7,256.6 538.7,254.8 539.6,253.3 541.1,254.1 542.3,253.9 542.6,256.3 541.2,256.5" fill="#d4281c"/>
<polygon points="539.4,259.4 539.1,260.7 537.1,260.6 537.9,258.9 539.3,258.1" fill="#f0b090" opacity="0.55"/>
<polygon points="537.5,260.5 537.2,259.7 537.7,258.8 538.6,258.5 539.5,258.8 539.8,260.3 538.9,260.3" fill="#e0361c"/>
<polygon points="542.0,259.0 541.9,257.4 542.1,256.8 543.7,257.2 544.6,257.8 543.7,259.1 542.9,259.3" fill="#f0b090" opacity="0.55"/>
<polygon points="542.2,258.9 542.1,257.5 543.3,256.9 543.8,258.3 543.0,259.0" fill="#e0361c"/>
<polygon points="542.4,263.1 541.6,263.7 540.8,263.0 539.6,262.3 541.7,261.1 542.5,261.9" fill="#f0b090" opacity="0.55"/>
<polygon points="542.6,261.8 542.9,263.0 541.9,263.1 541.1,263.3 540.8,262.6 541.1,261.2" fill="#e0361c"/>
<polygon points="546.1,262.6 544.7,262.5 544.2,262.0 544.2,260.7 545.6,261.3" fill="#f0b090" opacity="0.55"/>
<polygon points="544.1,261.4 545.1,260.7 545.5,262.0 545.2,262.3 544.4,262.0" fill="#e64a24"/>
<path d="M475.2,188.8C475.2,188.8 489.0,169.0 489.0,169.0C489.0,169.0 492.5,175.5 492.5,175.5C492.5,175.5 503.4,171.5 508.0,170.7C512.6,169.8 514.7,170.2 520.0,170.4C525.3,170.6 534.2,171.3 540.0,172.0C545.8,172.7 554.6,174.8 554.6,174.8C554.6,174.8 552.6,183.0 552.6,183.0C552.6,183.0 545.4,181.4 540.0,180.8C534.6,180.2 525.3,179.7 520.0,179.6C514.7,179.5 511.8,179.3 508.0,180.2C504.2,181.1 497.0,184.8 497.0,184.8C497.0,184.8 499.0,189.0 499.0,189.0C499.0,189.0 475.2,188.8 475.2,188.8Z" fill="#ed1c24"/>
<path d="M516.0,188.0C516.0,188.0 532.7,188.1 540.0,188.8C547.3,189.5 554.3,190.5 560.0,192.0C565.7,193.5 574.3,198.0 574.3,198.0C574.3,198.0 581.3,191.8 581.3,191.8C581.3,191.8 593.4,213.0 593.4,213.0C593.4,213.0 569.3,210.0 569.3,210.0C569.3,210.0 570.5,205.5 570.5,205.5C570.5,205.5 561.1,201.1 556.0,199.7C550.9,198.3 546.7,197.6 540.0,197.0C533.3,196.4 516.0,196.0 516.0,196.0C516.0,196.0 516.0,188.0 516.0,188.0Z" fill="#ed1c24"/>

<path d="M445.0,87.5C446.2,87.0 448.2,85.9 452.0,84.2C455.8,82.5 461.5,79.5 468.0,77.3C474.5,75.1 483.8,72.6 490.8,71.3C497.8,70.0 503.5,69.8 510.0,69.4C516.5,69.0 523.3,68.6 530.0,69.0C536.7,69.4 542.9,70.3 550.0,72.0C557.1,73.7 564.8,76.2 572.8,79.0C580.8,81.8 589.6,85.6 598.0,89.0C606.4,92.4 615.5,96.2 623.0,99.4C630.5,102.6 636.6,105.4 643.0,108.0C649.4,110.6 658.3,113.9 661.4,115.1" fill="none" stroke="#ed1c24" stroke-width="9.8"/>
<polygon points="402,105.5 443.4,70.8 454.5,98.5" fill="#ed1c24"/>

<text class="t" x="27.4" y="34" textLength="240.3" lengthAdjust="spacingAndGlyphs">Direct Impact Injury</text>
<text class="t" x="377.9" y="34" textLength="279" lengthAdjust="spacingAndGlyphs">Repetitive Concussion</text>
</svg>
</body></html>
